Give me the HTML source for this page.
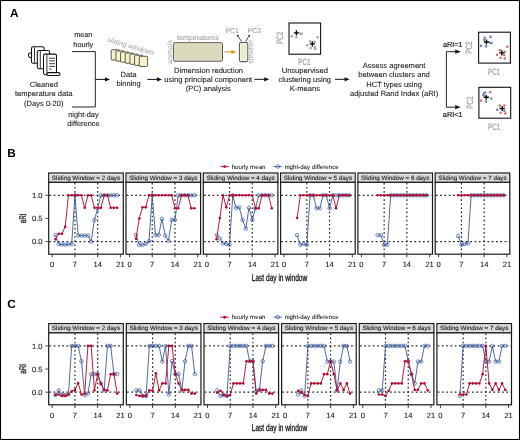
<!DOCTYPE html>
<html><head><meta charset="utf-8"><style>
html,body{margin:0;padding:0;background:#fff;}
#wrap{position:relative;width:520px;height:440px;overflow:hidden;background:#fff;}
svg{position:absolute;left:0;top:0;will-change:transform;}
text{font-family:"Liberation Sans", sans-serif;text-rendering:geometricPrecision;}
</style></head><body><div id="wrap">
<svg width="520" height="440" viewBox="0 0 520 440" font-family='"Liberation Sans", sans-serif'>
<rect x="0.5" y="0.5" width="519" height="439" fill="#fff" stroke="#000" stroke-width="1.1"/>
<text x="10.00" y="17.00" font-size="11.8" text-anchor="start" fill="#000" font-weight="bold">A</text>
<rect x="28.5" y="53" width="4" height="4.4" rx="1.6" fill="#fff" stroke="#111" stroke-width="1.05"/>
<rect x="31.5" y="46.8" width="12.6" height="16.5" rx="1.6" fill="#fff" stroke="#111" stroke-width="1.05"/>
<line x1="34.5" y1="47.3" x2="34.5" y2="62.8" stroke="#1e1e1e" stroke-width="0.9"/>
<rect x="37.3" y="50.4" width="12.3" height="18.3" rx="1.6" fill="#fff" stroke="#111" stroke-width="1.05"/>
<line x1="40.3" y1="50.9" x2="40.3" y2="68.2" stroke="#1e1e1e" stroke-width="0.9"/>
<rect x="43.5" y="54.1" width="13" height="20.6" rx="1.6" fill="#fff" stroke="#111" stroke-width="1.05"/>
<line x1="46.9" y1="54.6" x2="46.9" y2="74.4" stroke="#1e1e1e" stroke-width="0.9"/>
<rect x="46.9" y="72.6" width="13.1" height="2.9" rx="1.4" fill="#fff" stroke="#111" stroke-width="1.05"/>
<line x1="49.2" y1="58.3" x2="55" y2="58.3" stroke="#1e1e1e" stroke-width="0.85"/>
<line x1="49.2" y1="60.9" x2="55" y2="60.9" stroke="#1e1e1e" stroke-width="0.85"/>
<line x1="49.2" y1="63.7" x2="55" y2="63.7" stroke="#1e1e1e" stroke-width="0.85"/>
<line x1="49.2" y1="66.4" x2="55" y2="66.4" stroke="#1e1e1e" stroke-width="0.85"/>
<line x1="49.2" y1="69.1" x2="51.5" y2="69.1" stroke="#1e1e1e" stroke-width="0.85"/>
<text x="43.80" y="86.90" font-size="7.57" text-anchor="middle" fill="#1a1a1a" stroke="#1a1a1a" stroke-width="0.09">Cleaned</text>
<text x="43.80" y="96.30" font-size="7.57" text-anchor="middle" fill="#1a1a1a" stroke="#1a1a1a" stroke-width="0.09">temperature data</text>
<text x="43.80" y="105.60" font-size="7.57" text-anchor="middle" fill="#1a1a1a" stroke="#1a1a1a" stroke-width="0.09">(Days 0-20)</text>
<text x="83.30" y="37.10" font-size="7.3" text-anchor="middle" fill="#1a1a1a" stroke="#1a1a1a" stroke-width="0.09">mean</text>
<text x="83.30" y="46.80" font-size="7.3" text-anchor="middle" fill="#1a1a1a" stroke="#1a1a1a" stroke-width="0.09">hourly</text>
<text x="83.40" y="116.70" font-size="7.4" text-anchor="middle" fill="#1a1a1a" stroke="#1a1a1a" stroke-width="0.09">night-day</text>
<text x="83.40" y="126.20" font-size="7.4" text-anchor="middle" fill="#1a1a1a" stroke="#1a1a1a" stroke-width="0.09">difference</text>
<path d="M72,51.6 H95.3 V107 H72" fill="none" stroke="#222" stroke-width="1"/>
<line x1="95.3" y1="79.4" x2="105.5" y2="79.4" stroke="#111" stroke-width="1"/>
<path d="M110,79.4 L105,77.30000000000001 L105,81.5 Z" fill="#111"/>
<rect x="111.20" y="49.80" width="8.3" height="10.2" rx="0.8" fill="#f6f2cc" stroke="#4a4a40" stroke-width="0.9"/>
<rect x="115.88" y="50.88" width="8.3" height="10.2" rx="0.8" fill="#f6f2cc" stroke="#4a4a40" stroke-width="0.9"/>
<rect x="120.56" y="51.96" width="8.3" height="10.2" rx="0.8" fill="#f6f2cc" stroke="#4a4a40" stroke-width="0.9"/>
<rect x="125.24" y="53.04" width="8.3" height="10.2" rx="0.8" fill="#f6f2cc" stroke="#4a4a40" stroke-width="0.9"/>
<rect x="129.92" y="54.12" width="8.3" height="10.2" rx="0.8" fill="#f6f2cc" stroke="#4a4a40" stroke-width="0.9"/>
<rect x="134.60" y="55.20" width="8.3" height="10.2" rx="0.8" fill="#f6f2cc" stroke="#4a4a40" stroke-width="0.9"/>
<rect x="139.28" y="56.28" width="8.3" height="10.2" rx="0.8" fill="#f6f2cc" stroke="#4a4a40" stroke-width="0.9"/>
<text x="0" y="0" font-size="7" font-style="italic" fill="#a0a0a0" transform="translate(107.0,41.6) rotate(16.3)">sliding windows</text>
<text x="128.60" y="77.30" font-size="7.57" text-anchor="middle" fill="#1a1a1a" stroke="#1a1a1a" stroke-width="0.09">Data</text>
<text x="128.60" y="86.20" font-size="7.57" text-anchor="middle" fill="#1a1a1a" stroke="#1a1a1a" stroke-width="0.09">binning</text>
<line x1="147.3" y1="79.4" x2="157.5" y2="79.4" stroke="#111" stroke-width="1"/>
<path d="M162,79.4 L157,77.30000000000001 L157,81.5 Z" fill="#111"/>
<rect x="173.4" y="42.7" width="49.1" height="18.5" rx="1.6" fill="#dbd9bc" stroke="#55554c" stroke-width="1"/>
<rect x="174.7" y="44" width="46.5" height="15.9" fill="none" stroke="#e6e4cb" stroke-width="0.7"/>
<text x="197.90" y="39.50" font-size="7.1" text-anchor="middle" fill="#a0a0a0" stroke="#a0a0a0" stroke-width="0.09">temperatures</text>
<text x="0" y="0" font-size="6.9" text-anchor="middle" fill="#a0a0a0" transform="translate(171.6,52) rotate(-90)">animals</text>
<line x1="224.2" y1="51.9" x2="232" y2="51.9" stroke="#e8962e" stroke-width="1.1"/>
<path d="M236.6,51.9 L231.4,49.8 L231.4,54 Z" fill="#e8962e"/>
<rect x="239.4" y="42.4" width="8.4" height="19.2" rx="1.6" fill="#ebe9cb" stroke="#5a5a52" stroke-width="1.05"/>
<rect x="240.7" y="43.7" width="5.8" height="16.6" fill="none" stroke="#f8f7e0" stroke-width="0.7"/>
<line x1="243.6" y1="44" x2="243.6" y2="60" stroke="#f3f2d8" stroke-width="0.6"/>
<text x="0" y="0" font-size="6.9" text-anchor="middle" fill="#a0a0a0" transform="translate(249.1,51.8) rotate(90)">animals</text>
<text x="232.20" y="32.60" font-size="7.0" text-anchor="middle" fill="#a0a0a0" stroke="#a0a0a0" stroke-width="0.09">PC1</text>
<text x="254.40" y="32.60" font-size="7.0" text-anchor="middle" fill="#a0a0a0" stroke="#a0a0a0" stroke-width="0.09">PC2</text>
<line x1="241.6" y1="41.5" x2="238.17" y2="36.32" stroke="#222" stroke-width="0.8"/>
<path d="M236.9,34.4 L239.13,35.68 L237.21,36.95 Z" fill="#111"/>
<line x1="245.6" y1="41.5" x2="248.87" y2="36.34" stroke="#222" stroke-width="0.8"/>
<path d="M250.1,34.4 L249.84,36.96 L247.90,35.73 Z" fill="#111"/>
<text x="208.60" y="72.60" font-size="7.57" text-anchor="middle" fill="#1a1a1a" stroke="#1a1a1a" stroke-width="0.09">Dimension reduction</text>
<text x="208.30" y="81.60" font-size="7.57" text-anchor="middle" fill="#1a1a1a" stroke="#1a1a1a" stroke-width="0.09">using principal component</text>
<text x="208.30" y="90.60" font-size="7.57" text-anchor="middle" fill="#1a1a1a" stroke="#1a1a1a" stroke-width="0.09">(PC) analysis</text>
<line x1="254.3" y1="79.3" x2="264.7" y2="79.3" stroke="#111" stroke-width="1"/>
<path d="M269.2,79.3 L264.2,77.2 L264.2,81.39999999999999 Z" fill="#111"/>
<rect x="289" y="23" width="31.6" height="31.2" fill="#fff" stroke="#111" stroke-width="1.1"/>
<circle cx="291.9" cy="36.4" r="1.3" fill="#a9a9a9"/>
<circle cx="296.4" cy="37.3" r="1.3" fill="#a9a9a9"/>
<circle cx="301.8" cy="33.9" r="1.3" fill="#a9a9a9"/>
<circle cx="300.3" cy="33.6" r="1.3" fill="#a9a9a9"/>
<circle cx="317.7" cy="37.3" r="1.3" fill="#a9a9a9"/>
<circle cx="307.2" cy="45.3" r="1.3" fill="#a9a9a9"/>
<circle cx="310.1" cy="41.3" r="1.3" fill="#a9a9a9"/>
<circle cx="314.6" cy="41.9" r="1.3" fill="#a9a9a9"/>
<circle cx="310.6" cy="48.1" r="1.3" fill="#a9a9a9"/>
<circle cx="315.2" cy="48.9" r="1.3" fill="#a9a9a9"/>
<circle cx="314.9" cy="47.1" r="1.3" fill="#a9a9a9"/>
<path d="M293.79999999999995,32.8 H299.0 M296.4,30.199999999999996 V35.4" stroke="#000" stroke-width="1.3"/>
<path d="M309.7,43.9 H314.90000000000003 M312.3,41.3 V46.5" stroke="#000" stroke-width="1.3"/>
<text x="0" y="0" font-size="9.2" text-anchor="middle" fill="#a0a0a0" transform="translate(282.6,37.9) rotate(-90) scale(0.68,1)" stroke="#a0a0a0" stroke-width="0.22">PC2</text>
<text x="0" y="0" font-size="9.2" text-anchor="middle" fill="#a0a0a0" transform="translate(304.3,65.3) scale(0.68,1)" stroke="#a0a0a0" stroke-width="0.22">PC1</text>
<text x="304.80" y="72.60" font-size="7.57" text-anchor="middle" fill="#1a1a1a" stroke="#1a1a1a" stroke-width="0.09">Unsupervised</text>
<text x="304.80" y="81.70" font-size="7.57" text-anchor="middle" fill="#1a1a1a" stroke="#1a1a1a" stroke-width="0.09">clustering using</text>
<text x="304.80" y="90.80" font-size="7.57" text-anchor="middle" fill="#1a1a1a" stroke="#1a1a1a" stroke-width="0.09">K-means</text>
<line x1="335" y1="79.3" x2="345.1" y2="79.3" stroke="#111" stroke-width="1"/>
<path d="M349.6,79.3 L344.6,77.2 L344.6,81.39999999999999 Z" fill="#111"/>
<text x="394.10" y="68.10" font-size="7.57" text-anchor="middle" fill="#1a1a1a" stroke="#1a1a1a" stroke-width="0.09">Assess agreement</text>
<text x="394.10" y="77.30" font-size="7.57" text-anchor="middle" fill="#1a1a1a" stroke="#1a1a1a" stroke-width="0.09">between clusters and</text>
<text x="394.10" y="86.50" font-size="7.57" text-anchor="middle" fill="#1a1a1a" stroke="#1a1a1a" stroke-width="0.09">HCT types using</text>
<text x="394.10" y="95.70" font-size="7.57" text-anchor="middle" fill="#1a1a1a" stroke="#1a1a1a" stroke-width="0.09">adjusted Rand Index (aRI)</text>
<path d="M460.2,51.7 H446.4 V107.2 H455" fill="none" stroke="#222" stroke-width="1"/>
<path d="M460.6,51.7 L455.2,49.6 L455.2,53.8 Z" fill="#111"/>
<path d="M460.6,107.2 L455.2,105.1 L455.2,109.3 Z" fill="#111"/>
<text x="452.80" y="46.60" font-size="7.3" text-anchor="middle" fill="#1a1a1a" stroke="#1a1a1a" stroke-width="0.18">aRI=1</text>
<text x="452.70" y="117.30" font-size="7.3" text-anchor="middle" fill="#1a1a1a" stroke="#1a1a1a" stroke-width="0.18">aRI&lt;1</text>
<rect x="478.6" y="32.2" width="31.8" height="30.9" fill="#fff" stroke="#111" stroke-width="1.1"/>
<circle cx="484.2" cy="39.8" r="1.3" fill="#7584c0"/>
<circle cx="484.8" cy="37.7" r="1.3" fill="#7584c0"/>
<circle cx="490.5" cy="36.9" r="1.3" fill="#7584c0"/>
<circle cx="491.6" cy="43" r="1.3" fill="#7584c0"/>
<circle cx="490.2" cy="42.8" r="1.3" fill="#7584c0"/>
<circle cx="481.1" cy="45.7" r="1.3" fill="#7584c0"/>
<circle cx="486.1" cy="46.4" r="1.3" fill="#7584c0"/>
<circle cx="507.3" cy="46.8" r="1.3" fill="#d27262"/>
<circle cx="499.8" cy="50.2" r="1.3" fill="#d27262"/>
<circle cx="497" cy="54.8" r="1.3" fill="#d27262"/>
<circle cx="500.5" cy="57.7" r="1.3" fill="#d27262"/>
<circle cx="504.7" cy="51.7" r="1.3" fill="#d27262"/>
<circle cx="504.1" cy="55.1" r="1.3" fill="#d27262"/>
<circle cx="504.7" cy="58.5" r="1.3" fill="#d27262"/>
<path d="M483.9,42 H489.1 M486.5,39.4 V44.6" stroke="#000" stroke-width="1.3"/>
<path d="M499.2,52.8 H504.40000000000003 M501.8,50.199999999999996 V55.4" stroke="#000" stroke-width="1.3"/>
<rect x="478.9" y="87.3" width="31.8" height="30.9" fill="#fff" stroke="#111" stroke-width="1.1"/>
<circle cx="484" cy="93.5" r="1.3" fill="#7584c0"/>
<circle cx="485" cy="92.5" r="1.3" fill="#7584c0"/>
<circle cx="483.5" cy="95.25" r="1.3" fill="#7584c0"/>
<circle cx="491.25" cy="98.5" r="1.3" fill="#7584c0"/>
<circle cx="486" cy="101.5" r="1.3" fill="#7584c0"/>
<circle cx="497.25" cy="109.75" r="1.3" fill="#7584c0"/>
<circle cx="504.4" cy="111" r="1.3" fill="#7584c0"/>
<circle cx="490.25" cy="92.25" r="1.3" fill="#d27262"/>
<circle cx="481" cy="100.6" r="1.3" fill="#d27262"/>
<circle cx="499.75" cy="105.6" r="1.3" fill="#d27262"/>
<circle cx="504.4" cy="105.6" r="1.3" fill="#d27262"/>
<circle cx="500.6" cy="112.75" r="1.3" fill="#d27262"/>
<circle cx="505.25" cy="113.5" r="1.3" fill="#d27262"/>
<path d="M483.65,97.25 H488.85 M486.25,94.65 V99.85" stroke="#000" stroke-width="1.3"/>
<path d="M499.65,108.5 H504.85 M502.25,105.9 V111.1" stroke="#000" stroke-width="1.3"/>
<text x="0" y="0" font-size="9.2" text-anchor="middle" fill="#a0a0a0" transform="translate(472.4,47.7) rotate(-90) scale(0.68,1)" stroke="#a0a0a0" stroke-width="0.22">PC2</text>
<text x="0" y="0" font-size="9.2" text-anchor="middle" fill="#a0a0a0" transform="translate(494.1,74.6) scale(0.68,1)" stroke="#a0a0a0" stroke-width="0.22">PC1</text>
<text x="0" y="0" font-size="9.2" text-anchor="middle" fill="#a0a0a0" transform="translate(472.6,102.6) rotate(-90) scale(0.68,1)" stroke="#a0a0a0" stroke-width="0.22">PC2</text>
<text x="0" y="0" font-size="9.2" text-anchor="middle" fill="#a0a0a0" transform="translate(494.1,129.5) scale(0.68,1)" stroke="#a0a0a0" stroke-width="0.22">PC1</text>
<text x="7.20" y="157.00" font-size="11.8" text-anchor="start" fill="#000" font-weight="bold">B</text>
<line x1="220.2" y1="166.6" x2="228.9" y2="166.6" stroke="#b8082e" stroke-width="0.9"/>
<circle cx="224.6" cy="166.6" r="1.45" fill="#b8082e"/>
<text x="231.70" y="168.50" font-size="6.15" text-anchor="start" fill="#111" stroke="#111" stroke-width="0.04">hourly mean</text>
<line x1="273.5" y1="166.6" x2="281.9" y2="166.6" stroke="#3a5a9c" stroke-width="0.9"/>
<circle cx="277.8" cy="166.6" r="1.8" fill="none" stroke="#3a5a9c" stroke-width="0.7"/>
<text x="284.80" y="168.50" font-size="6.15" text-anchor="start" fill="#111" stroke="#111" stroke-width="0.04">night-day difference</text>
<rect x="48.70" y="173.00" width="74.60" height="9.30" fill="#d7d7d7" stroke="#1a1a1a" stroke-width="1.2"/>
<rect x="49.90" y="174.20" width="72.20" height="6.90" fill="none" stroke="#e9e9e9" stroke-width="0.6"/>
<text x="86.00" y="179.60" font-size="6.25" text-anchor="middle" fill="#1a1a1a" stroke="#1a1a1a" stroke-width="0.1">Sliding Window = 2 days</text>
<rect x="48.70" y="182.30" width="74.60" height="71.90" fill="#fff" stroke="#1a1a1a" stroke-width="1.2"/>
<line x1="49.30" y1="241.60" x2="122.70" y2="241.60" stroke="#2a2a2a" stroke-width="1.25" stroke-dasharray="1.8,2.5"/>
<line x1="49.30" y1="195.30" x2="122.70" y2="195.30" stroke="#2a2a2a" stroke-width="1.25" stroke-dasharray="1.8,2.5"/>
<line x1="74.94" y1="182.90" x2="74.94" y2="253.60" stroke="#222" stroke-width="1.2" stroke-dasharray="1.6,2.5"/>
<line x1="97.67" y1="182.90" x2="97.67" y2="253.60" stroke="#222" stroke-width="1.2" stroke-dasharray="1.6,2.5"/>
<line x1="52.20" y1="254.20" x2="52.20" y2="257.40" stroke="#222" stroke-width="0.85"/>
<text x="52.20" y="267.20" font-size="7.6" text-anchor="middle" fill="#1a1a1a" stroke="#1a1a1a" stroke-width="0.1">0</text>
<line x1="74.94" y1="254.20" x2="74.94" y2="257.40" stroke="#222" stroke-width="0.85"/>
<text x="74.94" y="267.20" font-size="7.6" text-anchor="middle" fill="#1a1a1a" stroke="#1a1a1a" stroke-width="0.1">7</text>
<line x1="97.67" y1="254.20" x2="97.67" y2="257.40" stroke="#222" stroke-width="0.85"/>
<text x="97.67" y="267.20" font-size="7.6" text-anchor="middle" fill="#1a1a1a" stroke="#1a1a1a" stroke-width="0.1">14</text>
<line x1="120.41" y1="254.20" x2="120.41" y2="257.40" stroke="#222" stroke-width="0.85"/>
<text x="120.41" y="267.20" font-size="7.6" text-anchor="middle" fill="#1a1a1a" stroke="#1a1a1a" stroke-width="0.1">21</text>
<polyline points="55.45,235.12 58.70,244.15 61.94,244.61 65.19,244.61 68.44,244.38 71.69,243.91 74.94,195.30 78.18,235.58 81.43,235.58 84.68,235.58 87.93,235.58 91.18,241.60 94.42,219.84 97.67,208.73 100.92,195.30 104.17,195.30 107.42,195.30 110.66,195.30 113.91,195.30 117.16,195.30" fill="none" stroke="#3a5a9c" stroke-width="0.9" stroke-linejoin="round"/>
<circle cx="55.45" cy="235.12" r="1.75" fill="none" stroke="#3a5a9c" stroke-width="0.7"/>
<circle cx="58.70" cy="244.15" r="1.75" fill="none" stroke="#3a5a9c" stroke-width="0.7"/>
<circle cx="61.94" cy="244.61" r="1.75" fill="none" stroke="#3a5a9c" stroke-width="0.7"/>
<circle cx="65.19" cy="244.61" r="1.75" fill="none" stroke="#3a5a9c" stroke-width="0.7"/>
<circle cx="68.44" cy="244.38" r="1.75" fill="none" stroke="#3a5a9c" stroke-width="0.7"/>
<circle cx="71.69" cy="243.91" r="1.75" fill="none" stroke="#3a5a9c" stroke-width="0.7"/>
<circle cx="74.94" cy="195.30" r="1.75" fill="none" stroke="#3a5a9c" stroke-width="0.7"/>
<circle cx="78.18" cy="235.58" r="1.75" fill="none" stroke="#3a5a9c" stroke-width="0.7"/>
<circle cx="81.43" cy="235.58" r="1.75" fill="none" stroke="#3a5a9c" stroke-width="0.7"/>
<circle cx="84.68" cy="235.58" r="1.75" fill="none" stroke="#3a5a9c" stroke-width="0.7"/>
<circle cx="87.93" cy="235.58" r="1.75" fill="none" stroke="#3a5a9c" stroke-width="0.7"/>
<circle cx="91.18" cy="241.60" r="1.75" fill="none" stroke="#3a5a9c" stroke-width="0.7"/>
<circle cx="94.42" cy="219.84" r="1.75" fill="none" stroke="#3a5a9c" stroke-width="0.7"/>
<circle cx="97.67" cy="208.73" r="1.75" fill="none" stroke="#3a5a9c" stroke-width="0.7"/>
<circle cx="100.92" cy="195.30" r="1.75" fill="none" stroke="#3a5a9c" stroke-width="0.7"/>
<circle cx="104.17" cy="195.30" r="1.75" fill="none" stroke="#3a5a9c" stroke-width="0.7"/>
<circle cx="107.42" cy="195.30" r="1.75" fill="none" stroke="#3a5a9c" stroke-width="0.7"/>
<circle cx="110.66" cy="195.30" r="1.75" fill="none" stroke="#3a5a9c" stroke-width="0.7"/>
<circle cx="113.91" cy="195.30" r="1.75" fill="none" stroke="#3a5a9c" stroke-width="0.7"/>
<circle cx="117.16" cy="195.30" r="1.75" fill="none" stroke="#3a5a9c" stroke-width="0.7"/>
<polyline points="55.45,239.28 58.70,233.73 61.94,233.73 65.19,226.78 68.44,195.30 71.69,195.30 74.94,195.30 78.18,195.30 81.43,195.30 84.68,207.80 87.93,195.30 91.18,195.30 94.42,207.80 97.67,207.80 100.92,207.80 104.17,195.30 107.42,195.30 110.66,207.80 113.91,207.80 117.16,207.80" fill="none" stroke="#b8082e" stroke-width="0.92" stroke-linejoin="round"/>
<circle cx="55.45" cy="239.28" r="1.3" fill="#b8082e"/>
<circle cx="58.70" cy="233.73" r="1.3" fill="#b8082e"/>
<circle cx="61.94" cy="233.73" r="1.3" fill="#b8082e"/>
<circle cx="65.19" cy="226.78" r="1.3" fill="#b8082e"/>
<circle cx="68.44" cy="195.30" r="1.3" fill="#b8082e"/>
<circle cx="71.69" cy="195.30" r="1.3" fill="#b8082e"/>
<circle cx="74.94" cy="195.30" r="1.3" fill="#b8082e"/>
<circle cx="78.18" cy="195.30" r="1.3" fill="#b8082e"/>
<circle cx="81.43" cy="195.30" r="1.3" fill="#b8082e"/>
<circle cx="84.68" cy="207.80" r="1.3" fill="#b8082e"/>
<circle cx="87.93" cy="195.30" r="1.3" fill="#b8082e"/>
<circle cx="91.18" cy="195.30" r="1.3" fill="#b8082e"/>
<circle cx="94.42" cy="207.80" r="1.3" fill="#b8082e"/>
<circle cx="97.67" cy="207.80" r="1.3" fill="#b8082e"/>
<circle cx="100.92" cy="207.80" r="1.3" fill="#b8082e"/>
<circle cx="104.17" cy="195.30" r="1.3" fill="#b8082e"/>
<circle cx="107.42" cy="195.30" r="1.3" fill="#b8082e"/>
<circle cx="110.66" cy="207.80" r="1.3" fill="#b8082e"/>
<circle cx="113.91" cy="207.80" r="1.3" fill="#b8082e"/>
<circle cx="117.16" cy="207.80" r="1.3" fill="#b8082e"/>
<rect x="126.00" y="173.00" width="74.60" height="9.30" fill="#d7d7d7" stroke="#1a1a1a" stroke-width="1.2"/>
<rect x="127.20" y="174.20" width="72.20" height="6.90" fill="none" stroke="#e9e9e9" stroke-width="0.6"/>
<text x="163.30" y="179.60" font-size="6.25" text-anchor="middle" fill="#1a1a1a" stroke="#1a1a1a" stroke-width="0.1">Sliding Window = 3 days</text>
<rect x="126.00" y="182.30" width="74.60" height="71.90" fill="#fff" stroke="#1a1a1a" stroke-width="1.2"/>
<line x1="126.60" y1="241.60" x2="200.00" y2="241.60" stroke="#2a2a2a" stroke-width="1.25" stroke-dasharray="1.8,2.5"/>
<line x1="126.60" y1="195.30" x2="200.00" y2="195.30" stroke="#2a2a2a" stroke-width="1.25" stroke-dasharray="1.8,2.5"/>
<line x1="152.24" y1="182.90" x2="152.24" y2="253.60" stroke="#222" stroke-width="1.2" stroke-dasharray="1.6,2.5"/>
<line x1="174.97" y1="182.90" x2="174.97" y2="253.60" stroke="#222" stroke-width="1.2" stroke-dasharray="1.6,2.5"/>
<line x1="129.50" y1="254.20" x2="129.50" y2="257.40" stroke="#222" stroke-width="0.85"/>
<text x="129.50" y="267.20" font-size="7.6" text-anchor="middle" fill="#1a1a1a" stroke="#1a1a1a" stroke-width="0.1">0</text>
<line x1="152.24" y1="254.20" x2="152.24" y2="257.40" stroke="#222" stroke-width="0.85"/>
<text x="152.24" y="267.20" font-size="7.6" text-anchor="middle" fill="#1a1a1a" stroke="#1a1a1a" stroke-width="0.1">7</text>
<line x1="174.97" y1="254.20" x2="174.97" y2="257.40" stroke="#222" stroke-width="0.85"/>
<text x="174.97" y="267.20" font-size="7.6" text-anchor="middle" fill="#1a1a1a" stroke="#1a1a1a" stroke-width="0.1">14</text>
<line x1="197.71" y1="254.20" x2="197.71" y2="257.40" stroke="#222" stroke-width="0.85"/>
<text x="197.71" y="267.20" font-size="7.6" text-anchor="middle" fill="#1a1a1a" stroke="#1a1a1a" stroke-width="0.1">21</text>
<polyline points="136.00,235.12 139.24,244.84 142.49,244.84 145.74,243.91 148.99,241.14 152.24,195.30 155.48,235.12 158.73,235.12 161.98,218.91 165.23,235.58 168.48,240.67 171.72,219.84 174.97,219.84 178.22,195.30 181.47,195.30 184.72,195.30 187.96,195.30 191.21,195.30 194.46,195.30" fill="none" stroke="#3a5a9c" stroke-width="0.9" stroke-linejoin="round"/>
<circle cx="136.00" cy="235.12" r="1.75" fill="none" stroke="#3a5a9c" stroke-width="0.7"/>
<circle cx="139.24" cy="244.84" r="1.75" fill="none" stroke="#3a5a9c" stroke-width="0.7"/>
<circle cx="142.49" cy="244.84" r="1.75" fill="none" stroke="#3a5a9c" stroke-width="0.7"/>
<circle cx="145.74" cy="243.91" r="1.75" fill="none" stroke="#3a5a9c" stroke-width="0.7"/>
<circle cx="148.99" cy="241.14" r="1.75" fill="none" stroke="#3a5a9c" stroke-width="0.7"/>
<circle cx="152.24" cy="195.30" r="1.75" fill="none" stroke="#3a5a9c" stroke-width="0.7"/>
<circle cx="155.48" cy="235.12" r="1.75" fill="none" stroke="#3a5a9c" stroke-width="0.7"/>
<circle cx="158.73" cy="235.12" r="1.75" fill="none" stroke="#3a5a9c" stroke-width="0.7"/>
<circle cx="161.98" cy="218.91" r="1.75" fill="none" stroke="#3a5a9c" stroke-width="0.7"/>
<circle cx="165.23" cy="235.58" r="1.75" fill="none" stroke="#3a5a9c" stroke-width="0.7"/>
<circle cx="168.48" cy="240.67" r="1.75" fill="none" stroke="#3a5a9c" stroke-width="0.7"/>
<circle cx="171.72" cy="219.84" r="1.75" fill="none" stroke="#3a5a9c" stroke-width="0.7"/>
<circle cx="174.97" cy="219.84" r="1.75" fill="none" stroke="#3a5a9c" stroke-width="0.7"/>
<circle cx="178.22" cy="195.30" r="1.75" fill="none" stroke="#3a5a9c" stroke-width="0.7"/>
<circle cx="181.47" cy="195.30" r="1.75" fill="none" stroke="#3a5a9c" stroke-width="0.7"/>
<circle cx="184.72" cy="195.30" r="1.75" fill="none" stroke="#3a5a9c" stroke-width="0.7"/>
<circle cx="187.96" cy="195.30" r="1.75" fill="none" stroke="#3a5a9c" stroke-width="0.7"/>
<circle cx="191.21" cy="195.30" r="1.75" fill="none" stroke="#3a5a9c" stroke-width="0.7"/>
<circle cx="194.46" cy="195.30" r="1.75" fill="none" stroke="#3a5a9c" stroke-width="0.7"/>
<polyline points="136.00,238.82 139.24,218.45 142.49,207.34 145.74,207.34 148.99,195.30 152.24,195.30 155.48,195.30 158.73,195.30 161.98,195.30 165.23,195.30 168.48,195.30 171.72,195.30 174.97,208.26 178.22,208.26 181.47,195.30 184.72,195.30 187.96,195.30 191.21,208.26 194.46,208.26" fill="none" stroke="#b8082e" stroke-width="0.92" stroke-linejoin="round"/>
<circle cx="136.00" cy="238.82" r="1.3" fill="#b8082e"/>
<circle cx="139.24" cy="218.45" r="1.3" fill="#b8082e"/>
<circle cx="142.49" cy="207.34" r="1.3" fill="#b8082e"/>
<circle cx="145.74" cy="207.34" r="1.3" fill="#b8082e"/>
<circle cx="148.99" cy="195.30" r="1.3" fill="#b8082e"/>
<circle cx="152.24" cy="195.30" r="1.3" fill="#b8082e"/>
<circle cx="155.48" cy="195.30" r="1.3" fill="#b8082e"/>
<circle cx="158.73" cy="195.30" r="1.3" fill="#b8082e"/>
<circle cx="161.98" cy="195.30" r="1.3" fill="#b8082e"/>
<circle cx="165.23" cy="195.30" r="1.3" fill="#b8082e"/>
<circle cx="168.48" cy="195.30" r="1.3" fill="#b8082e"/>
<circle cx="171.72" cy="195.30" r="1.3" fill="#b8082e"/>
<circle cx="174.97" cy="208.26" r="1.3" fill="#b8082e"/>
<circle cx="178.22" cy="208.26" r="1.3" fill="#b8082e"/>
<circle cx="181.47" cy="195.30" r="1.3" fill="#b8082e"/>
<circle cx="184.72" cy="195.30" r="1.3" fill="#b8082e"/>
<circle cx="187.96" cy="195.30" r="1.3" fill="#b8082e"/>
<circle cx="191.21" cy="208.26" r="1.3" fill="#b8082e"/>
<circle cx="194.46" cy="208.26" r="1.3" fill="#b8082e"/>
<rect x="203.30" y="173.00" width="74.60" height="9.30" fill="#d7d7d7" stroke="#1a1a1a" stroke-width="1.2"/>
<rect x="204.50" y="174.20" width="72.20" height="6.90" fill="none" stroke="#e9e9e9" stroke-width="0.6"/>
<text x="240.60" y="179.60" font-size="6.25" text-anchor="middle" fill="#1a1a1a" stroke="#1a1a1a" stroke-width="0.1">Sliding Window = 4 days</text>
<rect x="203.30" y="182.30" width="74.60" height="71.90" fill="#fff" stroke="#1a1a1a" stroke-width="1.2"/>
<line x1="203.90" y1="241.60" x2="277.30" y2="241.60" stroke="#2a2a2a" stroke-width="1.25" stroke-dasharray="1.8,2.5"/>
<line x1="203.90" y1="195.30" x2="277.30" y2="195.30" stroke="#2a2a2a" stroke-width="1.25" stroke-dasharray="1.8,2.5"/>
<line x1="229.54" y1="182.90" x2="229.54" y2="253.60" stroke="#222" stroke-width="1.2" stroke-dasharray="1.6,2.5"/>
<line x1="252.27" y1="182.90" x2="252.27" y2="253.60" stroke="#222" stroke-width="1.2" stroke-dasharray="1.6,2.5"/>
<line x1="206.80" y1="254.20" x2="206.80" y2="257.40" stroke="#222" stroke-width="0.85"/>
<text x="206.80" y="267.20" font-size="7.6" text-anchor="middle" fill="#1a1a1a" stroke="#1a1a1a" stroke-width="0.1">0</text>
<line x1="229.54" y1="254.20" x2="229.54" y2="257.40" stroke="#222" stroke-width="0.85"/>
<text x="229.54" y="267.20" font-size="7.6" text-anchor="middle" fill="#1a1a1a" stroke="#1a1a1a" stroke-width="0.1">7</text>
<line x1="252.27" y1="254.20" x2="252.27" y2="257.40" stroke="#222" stroke-width="0.85"/>
<text x="252.27" y="267.20" font-size="7.6" text-anchor="middle" fill="#1a1a1a" stroke="#1a1a1a" stroke-width="0.1">14</text>
<line x1="275.01" y1="254.20" x2="275.01" y2="257.40" stroke="#222" stroke-width="0.85"/>
<text x="275.01" y="267.20" font-size="7.6" text-anchor="middle" fill="#1a1a1a" stroke="#1a1a1a" stroke-width="0.1">21</text>
<polyline points="216.54,235.12 219.79,238.36 223.04,243.45 226.29,243.91 229.54,244.84 232.78,195.30 236.03,207.80 239.28,207.34 242.53,219.84 245.78,228.64 249.02,207.80 252.27,219.84 255.52,208.26 258.77,195.30 262.02,195.30 265.26,195.30 268.51,195.30 271.76,195.30" fill="none" stroke="#3a5a9c" stroke-width="0.9" stroke-linejoin="round"/>
<circle cx="216.54" cy="235.12" r="1.75" fill="none" stroke="#3a5a9c" stroke-width="0.7"/>
<circle cx="219.79" cy="238.36" r="1.75" fill="none" stroke="#3a5a9c" stroke-width="0.7"/>
<circle cx="223.04" cy="243.45" r="1.75" fill="none" stroke="#3a5a9c" stroke-width="0.7"/>
<circle cx="226.29" cy="243.91" r="1.75" fill="none" stroke="#3a5a9c" stroke-width="0.7"/>
<circle cx="229.54" cy="244.84" r="1.75" fill="none" stroke="#3a5a9c" stroke-width="0.7"/>
<circle cx="232.78" cy="195.30" r="1.75" fill="none" stroke="#3a5a9c" stroke-width="0.7"/>
<circle cx="236.03" cy="207.80" r="1.75" fill="none" stroke="#3a5a9c" stroke-width="0.7"/>
<circle cx="239.28" cy="207.34" r="1.75" fill="none" stroke="#3a5a9c" stroke-width="0.7"/>
<circle cx="242.53" cy="219.84" r="1.75" fill="none" stroke="#3a5a9c" stroke-width="0.7"/>
<circle cx="245.78" cy="228.64" r="1.75" fill="none" stroke="#3a5a9c" stroke-width="0.7"/>
<circle cx="249.02" cy="207.80" r="1.75" fill="none" stroke="#3a5a9c" stroke-width="0.7"/>
<circle cx="252.27" cy="219.84" r="1.75" fill="none" stroke="#3a5a9c" stroke-width="0.7"/>
<circle cx="255.52" cy="208.26" r="1.75" fill="none" stroke="#3a5a9c" stroke-width="0.7"/>
<circle cx="258.77" cy="195.30" r="1.75" fill="none" stroke="#3a5a9c" stroke-width="0.7"/>
<circle cx="262.02" cy="195.30" r="1.75" fill="none" stroke="#3a5a9c" stroke-width="0.7"/>
<circle cx="265.26" cy="195.30" r="1.75" fill="none" stroke="#3a5a9c" stroke-width="0.7"/>
<circle cx="268.51" cy="195.30" r="1.75" fill="none" stroke="#3a5a9c" stroke-width="0.7"/>
<circle cx="271.76" cy="195.30" r="1.75" fill="none" stroke="#3a5a9c" stroke-width="0.7"/>
<polyline points="216.54,239.28 219.79,217.99 223.04,195.30 226.29,207.34 229.54,195.30 232.78,195.30 236.03,195.30 239.28,195.30 242.53,195.30 245.78,195.30 249.02,195.30 252.27,195.30 255.52,208.26 258.77,208.26 262.02,195.30 265.26,195.30 268.51,195.30 271.76,208.26" fill="none" stroke="#b8082e" stroke-width="0.92" stroke-linejoin="round"/>
<circle cx="216.54" cy="239.28" r="1.3" fill="#b8082e"/>
<circle cx="219.79" cy="217.99" r="1.3" fill="#b8082e"/>
<circle cx="223.04" cy="195.30" r="1.3" fill="#b8082e"/>
<circle cx="226.29" cy="207.34" r="1.3" fill="#b8082e"/>
<circle cx="229.54" cy="195.30" r="1.3" fill="#b8082e"/>
<circle cx="232.78" cy="195.30" r="1.3" fill="#b8082e"/>
<circle cx="236.03" cy="195.30" r="1.3" fill="#b8082e"/>
<circle cx="239.28" cy="195.30" r="1.3" fill="#b8082e"/>
<circle cx="242.53" cy="195.30" r="1.3" fill="#b8082e"/>
<circle cx="245.78" cy="195.30" r="1.3" fill="#b8082e"/>
<circle cx="249.02" cy="195.30" r="1.3" fill="#b8082e"/>
<circle cx="252.27" cy="195.30" r="1.3" fill="#b8082e"/>
<circle cx="255.52" cy="208.26" r="1.3" fill="#b8082e"/>
<circle cx="258.77" cy="208.26" r="1.3" fill="#b8082e"/>
<circle cx="262.02" cy="195.30" r="1.3" fill="#b8082e"/>
<circle cx="265.26" cy="195.30" r="1.3" fill="#b8082e"/>
<circle cx="268.51" cy="195.30" r="1.3" fill="#b8082e"/>
<circle cx="271.76" cy="208.26" r="1.3" fill="#b8082e"/>
<rect x="280.60" y="173.00" width="74.60" height="9.30" fill="#d7d7d7" stroke="#1a1a1a" stroke-width="1.2"/>
<rect x="281.80" y="174.20" width="72.20" height="6.90" fill="none" stroke="#e9e9e9" stroke-width="0.6"/>
<text x="317.90" y="179.60" font-size="6.25" text-anchor="middle" fill="#1a1a1a" stroke="#1a1a1a" stroke-width="0.1">Sliding Window = 5 days</text>
<rect x="280.60" y="182.30" width="74.60" height="71.90" fill="#fff" stroke="#1a1a1a" stroke-width="1.2"/>
<line x1="281.20" y1="241.60" x2="354.60" y2="241.60" stroke="#2a2a2a" stroke-width="1.25" stroke-dasharray="1.8,2.5"/>
<line x1="281.20" y1="195.30" x2="354.60" y2="195.30" stroke="#2a2a2a" stroke-width="1.25" stroke-dasharray="1.8,2.5"/>
<line x1="306.84" y1="182.90" x2="306.84" y2="253.60" stroke="#222" stroke-width="1.2" stroke-dasharray="1.6,2.5"/>
<line x1="329.57" y1="182.90" x2="329.57" y2="253.60" stroke="#222" stroke-width="1.2" stroke-dasharray="1.6,2.5"/>
<line x1="284.10" y1="254.20" x2="284.10" y2="257.40" stroke="#222" stroke-width="0.85"/>
<text x="284.10" y="267.20" font-size="7.6" text-anchor="middle" fill="#1a1a1a" stroke="#1a1a1a" stroke-width="0.1">0</text>
<line x1="306.84" y1="254.20" x2="306.84" y2="257.40" stroke="#222" stroke-width="0.85"/>
<text x="306.84" y="267.20" font-size="7.6" text-anchor="middle" fill="#1a1a1a" stroke="#1a1a1a" stroke-width="0.1">7</text>
<line x1="329.57" y1="254.20" x2="329.57" y2="257.40" stroke="#222" stroke-width="0.85"/>
<text x="329.57" y="267.20" font-size="7.6" text-anchor="middle" fill="#1a1a1a" stroke="#1a1a1a" stroke-width="0.1">14</text>
<line x1="352.31" y1="254.20" x2="352.31" y2="257.40" stroke="#222" stroke-width="0.85"/>
<text x="352.31" y="267.20" font-size="7.6" text-anchor="middle" fill="#1a1a1a" stroke="#1a1a1a" stroke-width="0.1">21</text>
<polyline points="297.09,235.12 300.34,244.84 303.59,243.91 306.84,244.84 310.08,195.30 313.33,195.30 316.58,208.26 319.83,208.26 323.08,195.30 326.32,195.30 329.57,208.26 332.82,195.30 336.07,195.30 339.32,195.30 342.56,195.30 345.81,195.30 349.06,195.30" fill="none" stroke="#3a5a9c" stroke-width="0.9" stroke-linejoin="round"/>
<circle cx="297.09" cy="235.12" r="1.75" fill="none" stroke="#3a5a9c" stroke-width="0.7"/>
<circle cx="300.34" cy="244.84" r="1.75" fill="none" stroke="#3a5a9c" stroke-width="0.7"/>
<circle cx="303.59" cy="243.91" r="1.75" fill="none" stroke="#3a5a9c" stroke-width="0.7"/>
<circle cx="306.84" cy="244.84" r="1.75" fill="none" stroke="#3a5a9c" stroke-width="0.7"/>
<circle cx="310.08" cy="195.30" r="1.75" fill="none" stroke="#3a5a9c" stroke-width="0.7"/>
<circle cx="313.33" cy="195.30" r="1.75" fill="none" stroke="#3a5a9c" stroke-width="0.7"/>
<circle cx="316.58" cy="208.26" r="1.75" fill="none" stroke="#3a5a9c" stroke-width="0.7"/>
<circle cx="319.83" cy="208.26" r="1.75" fill="none" stroke="#3a5a9c" stroke-width="0.7"/>
<circle cx="323.08" cy="195.30" r="1.75" fill="none" stroke="#3a5a9c" stroke-width="0.7"/>
<circle cx="326.32" cy="195.30" r="1.75" fill="none" stroke="#3a5a9c" stroke-width="0.7"/>
<circle cx="329.57" cy="208.26" r="1.75" fill="none" stroke="#3a5a9c" stroke-width="0.7"/>
<circle cx="332.82" cy="195.30" r="1.75" fill="none" stroke="#3a5a9c" stroke-width="0.7"/>
<circle cx="336.07" cy="195.30" r="1.75" fill="none" stroke="#3a5a9c" stroke-width="0.7"/>
<circle cx="339.32" cy="195.30" r="1.75" fill="none" stroke="#3a5a9c" stroke-width="0.7"/>
<circle cx="342.56" cy="195.30" r="1.75" fill="none" stroke="#3a5a9c" stroke-width="0.7"/>
<circle cx="345.81" cy="195.30" r="1.75" fill="none" stroke="#3a5a9c" stroke-width="0.7"/>
<circle cx="349.06" cy="195.30" r="1.75" fill="none" stroke="#3a5a9c" stroke-width="0.7"/>
<polyline points="297.09,217.99 300.34,195.30 303.59,195.30 306.84,195.30 310.08,195.30 313.33,195.30 316.58,195.30 319.83,195.30 323.08,195.30 326.32,195.30 329.57,195.30 332.82,195.30 336.07,208.26 339.32,195.30 342.56,195.30 345.81,195.30 349.06,195.30" fill="none" stroke="#b8082e" stroke-width="0.92" stroke-linejoin="round"/>
<circle cx="297.09" cy="217.99" r="1.3" fill="#b8082e"/>
<circle cx="300.34" cy="195.30" r="1.3" fill="#b8082e"/>
<circle cx="303.59" cy="195.30" r="1.3" fill="#b8082e"/>
<circle cx="306.84" cy="195.30" r="1.3" fill="#b8082e"/>
<circle cx="310.08" cy="195.30" r="1.3" fill="#b8082e"/>
<circle cx="313.33" cy="195.30" r="1.3" fill="#b8082e"/>
<circle cx="316.58" cy="195.30" r="1.3" fill="#b8082e"/>
<circle cx="319.83" cy="195.30" r="1.3" fill="#b8082e"/>
<circle cx="323.08" cy="195.30" r="1.3" fill="#b8082e"/>
<circle cx="326.32" cy="195.30" r="1.3" fill="#b8082e"/>
<circle cx="329.57" cy="195.30" r="1.3" fill="#b8082e"/>
<circle cx="332.82" cy="195.30" r="1.3" fill="#b8082e"/>
<circle cx="336.07" cy="208.26" r="1.3" fill="#b8082e"/>
<circle cx="339.32" cy="195.30" r="1.3" fill="#b8082e"/>
<circle cx="342.56" cy="195.30" r="1.3" fill="#b8082e"/>
<circle cx="345.81" cy="195.30" r="1.3" fill="#b8082e"/>
<circle cx="349.06" cy="195.30" r="1.3" fill="#b8082e"/>
<rect x="357.90" y="173.00" width="74.60" height="9.30" fill="#d7d7d7" stroke="#1a1a1a" stroke-width="1.2"/>
<rect x="359.10" y="174.20" width="72.20" height="6.90" fill="none" stroke="#e9e9e9" stroke-width="0.6"/>
<text x="395.20" y="179.60" font-size="6.25" text-anchor="middle" fill="#1a1a1a" stroke="#1a1a1a" stroke-width="0.1">Sliding Window = 6 days</text>
<rect x="357.90" y="182.30" width="74.60" height="71.90" fill="#fff" stroke="#1a1a1a" stroke-width="1.2"/>
<line x1="358.50" y1="241.60" x2="431.90" y2="241.60" stroke="#2a2a2a" stroke-width="1.25" stroke-dasharray="1.8,2.5"/>
<line x1="358.50" y1="195.30" x2="431.90" y2="195.30" stroke="#2a2a2a" stroke-width="1.25" stroke-dasharray="1.8,2.5"/>
<line x1="384.14" y1="182.90" x2="384.14" y2="253.60" stroke="#222" stroke-width="1.2" stroke-dasharray="1.6,2.5"/>
<line x1="406.87" y1="182.90" x2="406.87" y2="253.60" stroke="#222" stroke-width="1.2" stroke-dasharray="1.6,2.5"/>
<line x1="361.40" y1="254.20" x2="361.40" y2="257.40" stroke="#222" stroke-width="0.85"/>
<text x="361.40" y="267.20" font-size="7.6" text-anchor="middle" fill="#1a1a1a" stroke="#1a1a1a" stroke-width="0.1">0</text>
<line x1="384.14" y1="254.20" x2="384.14" y2="257.40" stroke="#222" stroke-width="0.85"/>
<text x="384.14" y="267.20" font-size="7.6" text-anchor="middle" fill="#1a1a1a" stroke="#1a1a1a" stroke-width="0.1">7</text>
<line x1="406.87" y1="254.20" x2="406.87" y2="257.40" stroke="#222" stroke-width="0.85"/>
<text x="406.87" y="267.20" font-size="7.6" text-anchor="middle" fill="#1a1a1a" stroke="#1a1a1a" stroke-width="0.1">14</text>
<line x1="429.61" y1="254.20" x2="429.61" y2="257.40" stroke="#222" stroke-width="0.85"/>
<text x="429.61" y="267.20" font-size="7.6" text-anchor="middle" fill="#1a1a1a" stroke="#1a1a1a" stroke-width="0.1">21</text>
<polyline points="377.64,235.12 380.89,235.12 384.14,244.84 387.38,244.84 390.63,195.30 393.88,195.30 397.13,195.30 400.38,195.30 403.62,195.30 406.87,195.30 410.12,195.30 413.37,195.30 416.62,195.30 419.86,195.30 423.11,195.30 426.36,195.30" fill="none" stroke="#3a5a9c" stroke-width="0.9" stroke-linejoin="round"/>
<circle cx="377.64" cy="235.12" r="1.75" fill="none" stroke="#3a5a9c" stroke-width="0.7"/>
<circle cx="380.89" cy="235.12" r="1.75" fill="none" stroke="#3a5a9c" stroke-width="0.7"/>
<circle cx="384.14" cy="244.84" r="1.75" fill="none" stroke="#3a5a9c" stroke-width="0.7"/>
<circle cx="387.38" cy="244.84" r="1.75" fill="none" stroke="#3a5a9c" stroke-width="0.7"/>
<circle cx="390.63" cy="195.30" r="1.75" fill="none" stroke="#3a5a9c" stroke-width="0.7"/>
<circle cx="393.88" cy="195.30" r="1.75" fill="none" stroke="#3a5a9c" stroke-width="0.7"/>
<circle cx="397.13" cy="195.30" r="1.75" fill="none" stroke="#3a5a9c" stroke-width="0.7"/>
<circle cx="400.38" cy="195.30" r="1.75" fill="none" stroke="#3a5a9c" stroke-width="0.7"/>
<circle cx="403.62" cy="195.30" r="1.75" fill="none" stroke="#3a5a9c" stroke-width="0.7"/>
<circle cx="406.87" cy="195.30" r="1.75" fill="none" stroke="#3a5a9c" stroke-width="0.7"/>
<circle cx="410.12" cy="195.30" r="1.75" fill="none" stroke="#3a5a9c" stroke-width="0.7"/>
<circle cx="413.37" cy="195.30" r="1.75" fill="none" stroke="#3a5a9c" stroke-width="0.7"/>
<circle cx="416.62" cy="195.30" r="1.75" fill="none" stroke="#3a5a9c" stroke-width="0.7"/>
<circle cx="419.86" cy="195.30" r="1.75" fill="none" stroke="#3a5a9c" stroke-width="0.7"/>
<circle cx="423.11" cy="195.30" r="1.75" fill="none" stroke="#3a5a9c" stroke-width="0.7"/>
<circle cx="426.36" cy="195.30" r="1.75" fill="none" stroke="#3a5a9c" stroke-width="0.7"/>
<polyline points="377.64,195.30 380.89,195.30 384.14,195.30 387.38,195.30 390.63,195.30 393.88,195.30 397.13,195.30 400.38,195.30 403.62,195.30 406.87,195.30 410.12,195.30 413.37,195.30 416.62,195.30 419.86,195.30 423.11,195.30 426.36,195.30" fill="none" stroke="#b8082e" stroke-width="0.92" stroke-linejoin="round"/>
<circle cx="377.64" cy="195.30" r="1.3" fill="#b8082e"/>
<circle cx="380.89" cy="195.30" r="1.3" fill="#b8082e"/>
<circle cx="384.14" cy="195.30" r="1.3" fill="#b8082e"/>
<circle cx="387.38" cy="195.30" r="1.3" fill="#b8082e"/>
<circle cx="390.63" cy="195.30" r="1.3" fill="#b8082e"/>
<circle cx="393.88" cy="195.30" r="1.3" fill="#b8082e"/>
<circle cx="397.13" cy="195.30" r="1.3" fill="#b8082e"/>
<circle cx="400.38" cy="195.30" r="1.3" fill="#b8082e"/>
<circle cx="403.62" cy="195.30" r="1.3" fill="#b8082e"/>
<circle cx="406.87" cy="195.30" r="1.3" fill="#b8082e"/>
<circle cx="410.12" cy="195.30" r="1.3" fill="#b8082e"/>
<circle cx="413.37" cy="195.30" r="1.3" fill="#b8082e"/>
<circle cx="416.62" cy="195.30" r="1.3" fill="#b8082e"/>
<circle cx="419.86" cy="195.30" r="1.3" fill="#b8082e"/>
<circle cx="423.11" cy="195.30" r="1.3" fill="#b8082e"/>
<circle cx="426.36" cy="195.30" r="1.3" fill="#b8082e"/>
<rect x="435.20" y="173.00" width="74.60" height="9.30" fill="#d7d7d7" stroke="#1a1a1a" stroke-width="1.2"/>
<rect x="436.40" y="174.20" width="72.20" height="6.90" fill="none" stroke="#e9e9e9" stroke-width="0.6"/>
<text x="472.50" y="179.60" font-size="6.25" text-anchor="middle" fill="#1a1a1a" stroke="#1a1a1a" stroke-width="0.1">Sliding Window = 7 days</text>
<rect x="435.20" y="182.30" width="74.60" height="71.90" fill="#fff" stroke="#1a1a1a" stroke-width="1.2"/>
<line x1="435.80" y1="241.60" x2="509.20" y2="241.60" stroke="#2a2a2a" stroke-width="1.25" stroke-dasharray="1.8,2.5"/>
<line x1="435.80" y1="195.30" x2="509.20" y2="195.30" stroke="#2a2a2a" stroke-width="1.25" stroke-dasharray="1.8,2.5"/>
<line x1="461.44" y1="182.90" x2="461.44" y2="253.60" stroke="#222" stroke-width="1.2" stroke-dasharray="1.6,2.5"/>
<line x1="484.17" y1="182.90" x2="484.17" y2="253.60" stroke="#222" stroke-width="1.2" stroke-dasharray="1.6,2.5"/>
<line x1="438.70" y1="254.20" x2="438.70" y2="257.40" stroke="#222" stroke-width="0.85"/>
<text x="438.70" y="267.20" font-size="7.6" text-anchor="middle" fill="#1a1a1a" stroke="#1a1a1a" stroke-width="0.1">0</text>
<line x1="461.44" y1="254.20" x2="461.44" y2="257.40" stroke="#222" stroke-width="0.85"/>
<text x="461.44" y="267.20" font-size="7.6" text-anchor="middle" fill="#1a1a1a" stroke="#1a1a1a" stroke-width="0.1">7</text>
<line x1="484.17" y1="254.20" x2="484.17" y2="257.40" stroke="#222" stroke-width="0.85"/>
<text x="484.17" y="267.20" font-size="7.6" text-anchor="middle" fill="#1a1a1a" stroke="#1a1a1a" stroke-width="0.1">14</text>
<line x1="506.91" y1="254.20" x2="506.91" y2="257.40" stroke="#222" stroke-width="0.85"/>
<text x="506.91" y="267.20" font-size="7.6" text-anchor="middle" fill="#1a1a1a" stroke="#1a1a1a" stroke-width="0.1">21</text>
<polyline points="458.19,236.04 461.44,244.84 464.68,243.91 467.93,243.45 471.18,195.30 474.43,195.30 477.68,195.30 480.92,195.30 484.17,195.30 487.42,195.30 490.67,195.30 493.92,195.30 497.16,195.30 500.41,195.30 503.66,195.30" fill="none" stroke="#3a5a9c" stroke-width="0.9" stroke-linejoin="round"/>
<circle cx="458.19" cy="236.04" r="1.75" fill="none" stroke="#3a5a9c" stroke-width="0.7"/>
<circle cx="461.44" cy="244.84" r="1.75" fill="none" stroke="#3a5a9c" stroke-width="0.7"/>
<circle cx="464.68" cy="243.91" r="1.75" fill="none" stroke="#3a5a9c" stroke-width="0.7"/>
<circle cx="467.93" cy="243.45" r="1.75" fill="none" stroke="#3a5a9c" stroke-width="0.7"/>
<circle cx="471.18" cy="195.30" r="1.75" fill="none" stroke="#3a5a9c" stroke-width="0.7"/>
<circle cx="474.43" cy="195.30" r="1.75" fill="none" stroke="#3a5a9c" stroke-width="0.7"/>
<circle cx="477.68" cy="195.30" r="1.75" fill="none" stroke="#3a5a9c" stroke-width="0.7"/>
<circle cx="480.92" cy="195.30" r="1.75" fill="none" stroke="#3a5a9c" stroke-width="0.7"/>
<circle cx="484.17" cy="195.30" r="1.75" fill="none" stroke="#3a5a9c" stroke-width="0.7"/>
<circle cx="487.42" cy="195.30" r="1.75" fill="none" stroke="#3a5a9c" stroke-width="0.7"/>
<circle cx="490.67" cy="195.30" r="1.75" fill="none" stroke="#3a5a9c" stroke-width="0.7"/>
<circle cx="493.92" cy="195.30" r="1.75" fill="none" stroke="#3a5a9c" stroke-width="0.7"/>
<circle cx="497.16" cy="195.30" r="1.75" fill="none" stroke="#3a5a9c" stroke-width="0.7"/>
<circle cx="500.41" cy="195.30" r="1.75" fill="none" stroke="#3a5a9c" stroke-width="0.7"/>
<circle cx="503.66" cy="195.30" r="1.75" fill="none" stroke="#3a5a9c" stroke-width="0.7"/>
<polyline points="458.19,195.30 461.44,195.30 464.68,195.30 467.93,195.30 471.18,195.30 474.43,195.30 477.68,195.30 480.92,195.30 484.17,195.30 487.42,195.30 490.67,195.30 493.92,195.30 497.16,195.30 500.41,195.30 503.66,195.30" fill="none" stroke="#b8082e" stroke-width="0.92" stroke-linejoin="round"/>
<circle cx="458.19" cy="195.30" r="1.3" fill="#b8082e"/>
<circle cx="461.44" cy="195.30" r="1.3" fill="#b8082e"/>
<circle cx="464.68" cy="195.30" r="1.3" fill="#b8082e"/>
<circle cx="467.93" cy="195.30" r="1.3" fill="#b8082e"/>
<circle cx="471.18" cy="195.30" r="1.3" fill="#b8082e"/>
<circle cx="474.43" cy="195.30" r="1.3" fill="#b8082e"/>
<circle cx="477.68" cy="195.30" r="1.3" fill="#b8082e"/>
<circle cx="480.92" cy="195.30" r="1.3" fill="#b8082e"/>
<circle cx="484.17" cy="195.30" r="1.3" fill="#b8082e"/>
<circle cx="487.42" cy="195.30" r="1.3" fill="#b8082e"/>
<circle cx="490.67" cy="195.30" r="1.3" fill="#b8082e"/>
<circle cx="493.92" cy="195.30" r="1.3" fill="#b8082e"/>
<circle cx="497.16" cy="195.30" r="1.3" fill="#b8082e"/>
<circle cx="500.41" cy="195.30" r="1.3" fill="#b8082e"/>
<circle cx="503.66" cy="195.30" r="1.3" fill="#b8082e"/>
<line x1="45.3" y1="241.60" x2="48.70" y2="241.60" stroke="#222" stroke-width="0.8"/>
<text x="42.60" y="244.30" font-size="7.6" text-anchor="end" fill="#1a1a1a" stroke="#1a1a1a" stroke-width="0.1">0.0</text>
<line x1="45.3" y1="218.45" x2="48.70" y2="218.45" stroke="#222" stroke-width="0.8"/>
<text x="42.60" y="221.15" font-size="7.6" text-anchor="end" fill="#1a1a1a" stroke="#1a1a1a" stroke-width="0.1">0.5</text>
<line x1="45.3" y1="195.30" x2="48.70" y2="195.30" stroke="#222" stroke-width="0.8"/>
<text x="42.60" y="198.00" font-size="7.6" text-anchor="end" fill="#1a1a1a" stroke="#1a1a1a" stroke-width="0.1">1.0</text>
<text x="0" y="0" font-size="9.6" text-anchor="middle" fill="#111" transform="translate(25.9,218.3) rotate(-90) scale(0.66,1)" stroke="#111" stroke-width="0.3">aRI</text>
<text x="0" y="0" font-size="9.9" text-anchor="middle" fill="#111" transform="translate(279.5,280.6) scale(0.665,1)" stroke="#111" stroke-width="0.3">Last day in window</text>
<text x="7.20" y="307.60" font-size="11.8" text-anchor="start" fill="#000" font-weight="bold">C</text>
<line x1="220.2" y1="317.2" x2="228.9" y2="317.2" stroke="#b8082e" stroke-width="0.9"/>
<circle cx="224.6" cy="317.2" r="1.45" fill="#b8082e"/>
<text x="231.70" y="319.10" font-size="6.15" text-anchor="start" fill="#111" stroke="#111" stroke-width="0.04">hourly mean</text>
<line x1="273.5" y1="317.2" x2="281.9" y2="317.2" stroke="#3a5a9c" stroke-width="0.9"/>
<circle cx="277.8" cy="317.2" r="1.8" fill="none" stroke="#3a5a9c" stroke-width="0.7"/>
<text x="284.80" y="319.10" font-size="6.15" text-anchor="start" fill="#111" stroke="#111" stroke-width="0.04">night-day difference</text>
<rect x="48.70" y="323.60" width="74.60" height="9.30" fill="#d7d7d7" stroke="#1a1a1a" stroke-width="1.2"/>
<rect x="49.90" y="324.80" width="72.20" height="6.90" fill="none" stroke="#e9e9e9" stroke-width="0.6"/>
<text x="86.00" y="330.20" font-size="6.25" text-anchor="middle" fill="#1a1a1a" stroke="#1a1a1a" stroke-width="0.1">Sliding Window = 2 days</text>
<rect x="48.70" y="332.90" width="74.60" height="71.90" fill="#fff" stroke="#1a1a1a" stroke-width="1.2"/>
<line x1="49.30" y1="392.20" x2="122.70" y2="392.20" stroke="#2a2a2a" stroke-width="1.25" stroke-dasharray="1.8,2.5"/>
<line x1="49.30" y1="345.90" x2="122.70" y2="345.90" stroke="#2a2a2a" stroke-width="1.25" stroke-dasharray="1.8,2.5"/>
<line x1="74.94" y1="333.50" x2="74.94" y2="404.20" stroke="#222" stroke-width="1.2" stroke-dasharray="1.6,2.5"/>
<line x1="97.67" y1="333.50" x2="97.67" y2="404.20" stroke="#222" stroke-width="1.2" stroke-dasharray="1.6,2.5"/>
<line x1="52.20" y1="404.80" x2="52.20" y2="408.00" stroke="#222" stroke-width="0.85"/>
<text x="52.20" y="417.80" font-size="7.6" text-anchor="middle" fill="#1a1a1a" stroke="#1a1a1a" stroke-width="0.1">0</text>
<line x1="74.94" y1="404.80" x2="74.94" y2="408.00" stroke="#222" stroke-width="0.85"/>
<text x="74.94" y="417.80" font-size="7.6" text-anchor="middle" fill="#1a1a1a" stroke="#1a1a1a" stroke-width="0.1">7</text>
<line x1="97.67" y1="404.80" x2="97.67" y2="408.00" stroke="#222" stroke-width="0.85"/>
<text x="97.67" y="417.80" font-size="7.6" text-anchor="middle" fill="#1a1a1a" stroke="#1a1a1a" stroke-width="0.1">14</text>
<line x1="120.41" y1="404.80" x2="120.41" y2="408.00" stroke="#222" stroke-width="0.85"/>
<text x="120.41" y="417.80" font-size="7.6" text-anchor="middle" fill="#1a1a1a" stroke="#1a1a1a" stroke-width="0.1">21</text>
<polyline points="55.45,394.98 58.70,390.35 61.94,394.98 65.19,394.98 68.44,394.51 71.69,345.90 74.94,345.90 78.18,345.90 81.43,361.18 84.68,394.98 87.93,393.59 91.18,374.14 94.42,374.14 97.67,374.14 100.92,383.87 104.17,390.35 107.42,345.90 110.66,345.90 113.91,374.14 117.16,374.14" fill="none" stroke="#3a5a9c" stroke-width="0.9" stroke-linejoin="round"/>
<circle cx="55.45" cy="394.98" r="1.75" fill="none" stroke="#3a5a9c" stroke-width="0.7"/>
<circle cx="58.70" cy="390.35" r="1.75" fill="none" stroke="#3a5a9c" stroke-width="0.7"/>
<circle cx="61.94" cy="394.98" r="1.75" fill="none" stroke="#3a5a9c" stroke-width="0.7"/>
<circle cx="65.19" cy="394.98" r="1.75" fill="none" stroke="#3a5a9c" stroke-width="0.7"/>
<circle cx="68.44" cy="394.51" r="1.75" fill="none" stroke="#3a5a9c" stroke-width="0.7"/>
<circle cx="71.69" cy="345.90" r="1.75" fill="none" stroke="#3a5a9c" stroke-width="0.7"/>
<circle cx="74.94" cy="345.90" r="1.75" fill="none" stroke="#3a5a9c" stroke-width="0.7"/>
<circle cx="78.18" cy="345.90" r="1.75" fill="none" stroke="#3a5a9c" stroke-width="0.7"/>
<circle cx="81.43" cy="361.18" r="1.75" fill="none" stroke="#3a5a9c" stroke-width="0.7"/>
<circle cx="84.68" cy="394.98" r="1.75" fill="none" stroke="#3a5a9c" stroke-width="0.7"/>
<circle cx="87.93" cy="393.59" r="1.75" fill="none" stroke="#3a5a9c" stroke-width="0.7"/>
<circle cx="91.18" cy="374.14" r="1.75" fill="none" stroke="#3a5a9c" stroke-width="0.7"/>
<circle cx="94.42" cy="374.14" r="1.75" fill="none" stroke="#3a5a9c" stroke-width="0.7"/>
<circle cx="97.67" cy="374.14" r="1.75" fill="none" stroke="#3a5a9c" stroke-width="0.7"/>
<circle cx="100.92" cy="383.87" r="1.75" fill="none" stroke="#3a5a9c" stroke-width="0.7"/>
<circle cx="104.17" cy="390.35" r="1.75" fill="none" stroke="#3a5a9c" stroke-width="0.7"/>
<circle cx="107.42" cy="345.90" r="1.75" fill="none" stroke="#3a5a9c" stroke-width="0.7"/>
<circle cx="110.66" cy="345.90" r="1.75" fill="none" stroke="#3a5a9c" stroke-width="0.7"/>
<circle cx="113.91" cy="374.14" r="1.75" fill="none" stroke="#3a5a9c" stroke-width="0.7"/>
<circle cx="117.16" cy="374.14" r="1.75" fill="none" stroke="#3a5a9c" stroke-width="0.7"/>
<polyline points="55.45,394.98 58.70,394.51 61.94,395.90 65.19,395.90 68.44,394.51 71.69,391.27 74.94,389.88 78.18,382.94 81.43,394.51 84.68,393.59 87.93,345.90 91.18,345.90 94.42,390.35 97.67,374.14 100.92,383.40 104.17,389.88 107.42,390.35 110.66,374.14 113.91,374.14 117.16,393.59" fill="none" stroke="#b8082e" stroke-width="0.92" stroke-linejoin="round"/>
<circle cx="55.45" cy="394.98" r="1.3" fill="#b8082e"/>
<circle cx="58.70" cy="394.51" r="1.3" fill="#b8082e"/>
<circle cx="61.94" cy="395.90" r="1.3" fill="#b8082e"/>
<circle cx="65.19" cy="395.90" r="1.3" fill="#b8082e"/>
<circle cx="68.44" cy="394.51" r="1.3" fill="#b8082e"/>
<circle cx="71.69" cy="391.27" r="1.3" fill="#b8082e"/>
<circle cx="74.94" cy="389.88" r="1.3" fill="#b8082e"/>
<circle cx="78.18" cy="382.94" r="1.3" fill="#b8082e"/>
<circle cx="81.43" cy="394.51" r="1.3" fill="#b8082e"/>
<circle cx="84.68" cy="393.59" r="1.3" fill="#b8082e"/>
<circle cx="87.93" cy="345.90" r="1.3" fill="#b8082e"/>
<circle cx="91.18" cy="345.90" r="1.3" fill="#b8082e"/>
<circle cx="94.42" cy="390.35" r="1.3" fill="#b8082e"/>
<circle cx="97.67" cy="374.14" r="1.3" fill="#b8082e"/>
<circle cx="100.92" cy="383.40" r="1.3" fill="#b8082e"/>
<circle cx="104.17" cy="389.88" r="1.3" fill="#b8082e"/>
<circle cx="107.42" cy="390.35" r="1.3" fill="#b8082e"/>
<circle cx="110.66" cy="374.14" r="1.3" fill="#b8082e"/>
<circle cx="113.91" cy="374.14" r="1.3" fill="#b8082e"/>
<circle cx="117.16" cy="393.59" r="1.3" fill="#b8082e"/>
<rect x="126.34" y="323.60" width="74.60" height="9.30" fill="#d7d7d7" stroke="#1a1a1a" stroke-width="1.2"/>
<rect x="127.54" y="324.80" width="72.20" height="6.90" fill="none" stroke="#e9e9e9" stroke-width="0.6"/>
<text x="163.64" y="330.20" font-size="6.25" text-anchor="middle" fill="#1a1a1a" stroke="#1a1a1a" stroke-width="0.1">Sliding Window = 3 days</text>
<rect x="126.34" y="332.90" width="74.60" height="71.90" fill="#fff" stroke="#1a1a1a" stroke-width="1.2"/>
<line x1="126.94" y1="392.20" x2="200.34" y2="392.20" stroke="#2a2a2a" stroke-width="1.25" stroke-dasharray="1.8,2.5"/>
<line x1="126.94" y1="345.90" x2="200.34" y2="345.90" stroke="#2a2a2a" stroke-width="1.25" stroke-dasharray="1.8,2.5"/>
<line x1="152.58" y1="333.50" x2="152.58" y2="404.20" stroke="#222" stroke-width="1.2" stroke-dasharray="1.6,2.5"/>
<line x1="175.31" y1="333.50" x2="175.31" y2="404.20" stroke="#222" stroke-width="1.2" stroke-dasharray="1.6,2.5"/>
<line x1="129.84" y1="404.80" x2="129.84" y2="408.00" stroke="#222" stroke-width="0.85"/>
<text x="129.84" y="417.80" font-size="7.6" text-anchor="middle" fill="#1a1a1a" stroke="#1a1a1a" stroke-width="0.1">0</text>
<line x1="152.58" y1="404.80" x2="152.58" y2="408.00" stroke="#222" stroke-width="0.85"/>
<text x="152.58" y="417.80" font-size="7.6" text-anchor="middle" fill="#1a1a1a" stroke="#1a1a1a" stroke-width="0.1">7</text>
<line x1="175.31" y1="404.80" x2="175.31" y2="408.00" stroke="#222" stroke-width="0.85"/>
<text x="175.31" y="417.80" font-size="7.6" text-anchor="middle" fill="#1a1a1a" stroke="#1a1a1a" stroke-width="0.1">14</text>
<line x1="198.05" y1="404.80" x2="198.05" y2="408.00" stroke="#222" stroke-width="0.85"/>
<text x="198.05" y="417.80" font-size="7.6" text-anchor="middle" fill="#1a1a1a" stroke="#1a1a1a" stroke-width="0.1">21</text>
<polyline points="136.34,390.35 139.58,390.35 142.83,395.90 146.08,395.90 149.33,345.90 152.58,345.90 155.82,345.90 159.07,345.90 162.32,361.64 165.57,345.90 168.82,394.51 172.06,361.18 175.31,374.14 178.56,374.14 181.81,390.35 185.06,361.18 188.30,345.90 191.55,345.90 194.80,374.14" fill="none" stroke="#3a5a9c" stroke-width="0.9" stroke-linejoin="round"/>
<circle cx="136.34" cy="390.35" r="1.75" fill="none" stroke="#3a5a9c" stroke-width="0.7"/>
<circle cx="139.58" cy="390.35" r="1.75" fill="none" stroke="#3a5a9c" stroke-width="0.7"/>
<circle cx="142.83" cy="395.90" r="1.75" fill="none" stroke="#3a5a9c" stroke-width="0.7"/>
<circle cx="146.08" cy="395.90" r="1.75" fill="none" stroke="#3a5a9c" stroke-width="0.7"/>
<circle cx="149.33" cy="345.90" r="1.75" fill="none" stroke="#3a5a9c" stroke-width="0.7"/>
<circle cx="152.58" cy="345.90" r="1.75" fill="none" stroke="#3a5a9c" stroke-width="0.7"/>
<circle cx="155.82" cy="345.90" r="1.75" fill="none" stroke="#3a5a9c" stroke-width="0.7"/>
<circle cx="159.07" cy="345.90" r="1.75" fill="none" stroke="#3a5a9c" stroke-width="0.7"/>
<circle cx="162.32" cy="361.64" r="1.75" fill="none" stroke="#3a5a9c" stroke-width="0.7"/>
<circle cx="165.57" cy="345.90" r="1.75" fill="none" stroke="#3a5a9c" stroke-width="0.7"/>
<circle cx="168.82" cy="394.51" r="1.75" fill="none" stroke="#3a5a9c" stroke-width="0.7"/>
<circle cx="172.06" cy="361.18" r="1.75" fill="none" stroke="#3a5a9c" stroke-width="0.7"/>
<circle cx="175.31" cy="374.14" r="1.75" fill="none" stroke="#3a5a9c" stroke-width="0.7"/>
<circle cx="178.56" cy="374.14" r="1.75" fill="none" stroke="#3a5a9c" stroke-width="0.7"/>
<circle cx="181.81" cy="390.35" r="1.75" fill="none" stroke="#3a5a9c" stroke-width="0.7"/>
<circle cx="185.06" cy="361.18" r="1.75" fill="none" stroke="#3a5a9c" stroke-width="0.7"/>
<circle cx="188.30" cy="345.90" r="1.75" fill="none" stroke="#3a5a9c" stroke-width="0.7"/>
<circle cx="191.55" cy="345.90" r="1.75" fill="none" stroke="#3a5a9c" stroke-width="0.7"/>
<circle cx="194.80" cy="374.14" r="1.75" fill="none" stroke="#3a5a9c" stroke-width="0.7"/>
<polyline points="136.34,394.98 139.58,395.90 142.83,395.90 146.08,395.90 149.33,390.35 152.58,390.81 155.82,373.22 159.07,390.35 162.32,383.40 165.57,383.40 168.82,345.90 172.06,345.90 175.31,374.14 178.56,383.40 181.81,389.88 185.06,389.88 188.30,389.88 191.55,393.59 194.80,393.59" fill="none" stroke="#b8082e" stroke-width="0.92" stroke-linejoin="round"/>
<circle cx="136.34" cy="394.98" r="1.3" fill="#b8082e"/>
<circle cx="139.58" cy="395.90" r="1.3" fill="#b8082e"/>
<circle cx="142.83" cy="395.90" r="1.3" fill="#b8082e"/>
<circle cx="146.08" cy="395.90" r="1.3" fill="#b8082e"/>
<circle cx="149.33" cy="390.35" r="1.3" fill="#b8082e"/>
<circle cx="152.58" cy="390.81" r="1.3" fill="#b8082e"/>
<circle cx="155.82" cy="373.22" r="1.3" fill="#b8082e"/>
<circle cx="159.07" cy="390.35" r="1.3" fill="#b8082e"/>
<circle cx="162.32" cy="383.40" r="1.3" fill="#b8082e"/>
<circle cx="165.57" cy="383.40" r="1.3" fill="#b8082e"/>
<circle cx="168.82" cy="345.90" r="1.3" fill="#b8082e"/>
<circle cx="172.06" cy="345.90" r="1.3" fill="#b8082e"/>
<circle cx="175.31" cy="374.14" r="1.3" fill="#b8082e"/>
<circle cx="178.56" cy="383.40" r="1.3" fill="#b8082e"/>
<circle cx="181.81" cy="389.88" r="1.3" fill="#b8082e"/>
<circle cx="185.06" cy="389.88" r="1.3" fill="#b8082e"/>
<circle cx="188.30" cy="389.88" r="1.3" fill="#b8082e"/>
<circle cx="191.55" cy="393.59" r="1.3" fill="#b8082e"/>
<circle cx="194.80" cy="393.59" r="1.3" fill="#b8082e"/>
<rect x="203.98" y="323.60" width="74.60" height="9.30" fill="#d7d7d7" stroke="#1a1a1a" stroke-width="1.2"/>
<rect x="205.18" y="324.80" width="72.20" height="6.90" fill="none" stroke="#e9e9e9" stroke-width="0.6"/>
<text x="241.28" y="330.20" font-size="6.25" text-anchor="middle" fill="#1a1a1a" stroke="#1a1a1a" stroke-width="0.1">Sliding Window = 4 days</text>
<rect x="203.98" y="332.90" width="74.60" height="71.90" fill="#fff" stroke="#1a1a1a" stroke-width="1.2"/>
<line x1="204.58" y1="392.20" x2="277.98" y2="392.20" stroke="#2a2a2a" stroke-width="1.25" stroke-dasharray="1.8,2.5"/>
<line x1="204.58" y1="345.90" x2="277.98" y2="345.90" stroke="#2a2a2a" stroke-width="1.25" stroke-dasharray="1.8,2.5"/>
<line x1="230.22" y1="333.50" x2="230.22" y2="404.20" stroke="#222" stroke-width="1.2" stroke-dasharray="1.6,2.5"/>
<line x1="252.95" y1="333.50" x2="252.95" y2="404.20" stroke="#222" stroke-width="1.2" stroke-dasharray="1.6,2.5"/>
<line x1="207.48" y1="404.80" x2="207.48" y2="408.00" stroke="#222" stroke-width="0.85"/>
<text x="207.48" y="417.80" font-size="7.6" text-anchor="middle" fill="#1a1a1a" stroke="#1a1a1a" stroke-width="0.1">0</text>
<line x1="230.22" y1="404.80" x2="230.22" y2="408.00" stroke="#222" stroke-width="0.85"/>
<text x="230.22" y="417.80" font-size="7.6" text-anchor="middle" fill="#1a1a1a" stroke="#1a1a1a" stroke-width="0.1">7</text>
<line x1="252.95" y1="404.80" x2="252.95" y2="408.00" stroke="#222" stroke-width="0.85"/>
<text x="252.95" y="417.80" font-size="7.6" text-anchor="middle" fill="#1a1a1a" stroke="#1a1a1a" stroke-width="0.1">14</text>
<line x1="275.69" y1="404.80" x2="275.69" y2="408.00" stroke="#222" stroke-width="0.85"/>
<text x="275.69" y="417.80" font-size="7.6" text-anchor="middle" fill="#1a1a1a" stroke="#1a1a1a" stroke-width="0.1">21</text>
<polyline points="217.22,390.35 220.47,395.90 223.72,394.98 226.97,395.90 230.22,345.90 233.46,345.90 236.71,345.90 239.96,345.90 243.21,345.90 246.46,345.90 249.70,361.18 252.95,361.18 256.20,391.27 259.45,389.88 262.70,361.18 265.94,345.90 269.19,345.90 272.44,345.90" fill="none" stroke="#3a5a9c" stroke-width="0.9" stroke-linejoin="round"/>
<circle cx="217.22" cy="390.35" r="1.75" fill="none" stroke="#3a5a9c" stroke-width="0.7"/>
<circle cx="220.47" cy="395.90" r="1.75" fill="none" stroke="#3a5a9c" stroke-width="0.7"/>
<circle cx="223.72" cy="394.98" r="1.75" fill="none" stroke="#3a5a9c" stroke-width="0.7"/>
<circle cx="226.97" cy="395.90" r="1.75" fill="none" stroke="#3a5a9c" stroke-width="0.7"/>
<circle cx="230.22" cy="345.90" r="1.75" fill="none" stroke="#3a5a9c" stroke-width="0.7"/>
<circle cx="233.46" cy="345.90" r="1.75" fill="none" stroke="#3a5a9c" stroke-width="0.7"/>
<circle cx="236.71" cy="345.90" r="1.75" fill="none" stroke="#3a5a9c" stroke-width="0.7"/>
<circle cx="239.96" cy="345.90" r="1.75" fill="none" stroke="#3a5a9c" stroke-width="0.7"/>
<circle cx="243.21" cy="345.90" r="1.75" fill="none" stroke="#3a5a9c" stroke-width="0.7"/>
<circle cx="246.46" cy="345.90" r="1.75" fill="none" stroke="#3a5a9c" stroke-width="0.7"/>
<circle cx="249.70" cy="361.18" r="1.75" fill="none" stroke="#3a5a9c" stroke-width="0.7"/>
<circle cx="252.95" cy="361.18" r="1.75" fill="none" stroke="#3a5a9c" stroke-width="0.7"/>
<circle cx="256.20" cy="391.27" r="1.75" fill="none" stroke="#3a5a9c" stroke-width="0.7"/>
<circle cx="259.45" cy="389.88" r="1.75" fill="none" stroke="#3a5a9c" stroke-width="0.7"/>
<circle cx="262.70" cy="361.18" r="1.75" fill="none" stroke="#3a5a9c" stroke-width="0.7"/>
<circle cx="265.94" cy="345.90" r="1.75" fill="none" stroke="#3a5a9c" stroke-width="0.7"/>
<circle cx="269.19" cy="345.90" r="1.75" fill="none" stroke="#3a5a9c" stroke-width="0.7"/>
<circle cx="272.44" cy="345.90" r="1.75" fill="none" stroke="#3a5a9c" stroke-width="0.7"/>
<polyline points="217.22,392.66 220.47,390.81 223.72,394.98 226.97,395.90 230.22,394.98 233.46,383.40 236.71,383.40 239.96,383.40 243.21,383.40 246.46,361.18 249.70,361.18 252.95,361.18 256.20,393.59 259.45,389.88 262.70,389.88 265.94,389.88 269.19,393.59 272.44,393.59" fill="none" stroke="#b8082e" stroke-width="0.92" stroke-linejoin="round"/>
<circle cx="217.22" cy="392.66" r="1.3" fill="#b8082e"/>
<circle cx="220.47" cy="390.81" r="1.3" fill="#b8082e"/>
<circle cx="223.72" cy="394.98" r="1.3" fill="#b8082e"/>
<circle cx="226.97" cy="395.90" r="1.3" fill="#b8082e"/>
<circle cx="230.22" cy="394.98" r="1.3" fill="#b8082e"/>
<circle cx="233.46" cy="383.40" r="1.3" fill="#b8082e"/>
<circle cx="236.71" cy="383.40" r="1.3" fill="#b8082e"/>
<circle cx="239.96" cy="383.40" r="1.3" fill="#b8082e"/>
<circle cx="243.21" cy="383.40" r="1.3" fill="#b8082e"/>
<circle cx="246.46" cy="361.18" r="1.3" fill="#b8082e"/>
<circle cx="249.70" cy="361.18" r="1.3" fill="#b8082e"/>
<circle cx="252.95" cy="361.18" r="1.3" fill="#b8082e"/>
<circle cx="256.20" cy="393.59" r="1.3" fill="#b8082e"/>
<circle cx="259.45" cy="389.88" r="1.3" fill="#b8082e"/>
<circle cx="262.70" cy="389.88" r="1.3" fill="#b8082e"/>
<circle cx="265.94" cy="389.88" r="1.3" fill="#b8082e"/>
<circle cx="269.19" cy="393.59" r="1.3" fill="#b8082e"/>
<circle cx="272.44" cy="393.59" r="1.3" fill="#b8082e"/>
<rect x="281.62" y="323.60" width="74.60" height="9.30" fill="#d7d7d7" stroke="#1a1a1a" stroke-width="1.2"/>
<rect x="282.82" y="324.80" width="72.20" height="6.90" fill="none" stroke="#e9e9e9" stroke-width="0.6"/>
<text x="318.92" y="330.20" font-size="6.25" text-anchor="middle" fill="#1a1a1a" stroke="#1a1a1a" stroke-width="0.1">Sliding Window = 5 days</text>
<rect x="281.62" y="332.90" width="74.60" height="71.90" fill="#fff" stroke="#1a1a1a" stroke-width="1.2"/>
<line x1="282.22" y1="392.20" x2="355.62" y2="392.20" stroke="#2a2a2a" stroke-width="1.25" stroke-dasharray="1.8,2.5"/>
<line x1="282.22" y1="345.90" x2="355.62" y2="345.90" stroke="#2a2a2a" stroke-width="1.25" stroke-dasharray="1.8,2.5"/>
<line x1="307.86" y1="333.50" x2="307.86" y2="404.20" stroke="#222" stroke-width="1.2" stroke-dasharray="1.6,2.5"/>
<line x1="330.59" y1="333.50" x2="330.59" y2="404.20" stroke="#222" stroke-width="1.2" stroke-dasharray="1.6,2.5"/>
<line x1="285.12" y1="404.80" x2="285.12" y2="408.00" stroke="#222" stroke-width="0.85"/>
<text x="285.12" y="417.80" font-size="7.6" text-anchor="middle" fill="#1a1a1a" stroke="#1a1a1a" stroke-width="0.1">0</text>
<line x1="307.86" y1="404.80" x2="307.86" y2="408.00" stroke="#222" stroke-width="0.85"/>
<text x="307.86" y="417.80" font-size="7.6" text-anchor="middle" fill="#1a1a1a" stroke="#1a1a1a" stroke-width="0.1">7</text>
<line x1="330.59" y1="404.80" x2="330.59" y2="408.00" stroke="#222" stroke-width="0.85"/>
<text x="330.59" y="417.80" font-size="7.6" text-anchor="middle" fill="#1a1a1a" stroke="#1a1a1a" stroke-width="0.1">14</text>
<line x1="353.33" y1="404.80" x2="353.33" y2="408.00" stroke="#222" stroke-width="0.85"/>
<text x="353.33" y="417.80" font-size="7.6" text-anchor="middle" fill="#1a1a1a" stroke="#1a1a1a" stroke-width="0.1">21</text>
<polyline points="298.11,394.51 301.36,390.35 304.61,395.90 307.86,345.90 311.10,345.90 314.35,345.90 317.60,345.90 320.85,345.90 324.10,345.90 327.34,361.64 330.59,361.64 333.84,361.64 337.09,390.35 340.34,361.64 343.58,345.90 346.83,345.90 350.08,361.64" fill="none" stroke="#3a5a9c" stroke-width="0.9" stroke-linejoin="round"/>
<circle cx="298.11" cy="394.51" r="1.75" fill="none" stroke="#3a5a9c" stroke-width="0.7"/>
<circle cx="301.36" cy="390.35" r="1.75" fill="none" stroke="#3a5a9c" stroke-width="0.7"/>
<circle cx="304.61" cy="395.90" r="1.75" fill="none" stroke="#3a5a9c" stroke-width="0.7"/>
<circle cx="307.86" cy="345.90" r="1.75" fill="none" stroke="#3a5a9c" stroke-width="0.7"/>
<circle cx="311.10" cy="345.90" r="1.75" fill="none" stroke="#3a5a9c" stroke-width="0.7"/>
<circle cx="314.35" cy="345.90" r="1.75" fill="none" stroke="#3a5a9c" stroke-width="0.7"/>
<circle cx="317.60" cy="345.90" r="1.75" fill="none" stroke="#3a5a9c" stroke-width="0.7"/>
<circle cx="320.85" cy="345.90" r="1.75" fill="none" stroke="#3a5a9c" stroke-width="0.7"/>
<circle cx="324.10" cy="345.90" r="1.75" fill="none" stroke="#3a5a9c" stroke-width="0.7"/>
<circle cx="327.34" cy="361.64" r="1.75" fill="none" stroke="#3a5a9c" stroke-width="0.7"/>
<circle cx="330.59" cy="361.64" r="1.75" fill="none" stroke="#3a5a9c" stroke-width="0.7"/>
<circle cx="333.84" cy="361.64" r="1.75" fill="none" stroke="#3a5a9c" stroke-width="0.7"/>
<circle cx="337.09" cy="390.35" r="1.75" fill="none" stroke="#3a5a9c" stroke-width="0.7"/>
<circle cx="340.34" cy="361.64" r="1.75" fill="none" stroke="#3a5a9c" stroke-width="0.7"/>
<circle cx="343.58" cy="345.90" r="1.75" fill="none" stroke="#3a5a9c" stroke-width="0.7"/>
<circle cx="346.83" cy="345.90" r="1.75" fill="none" stroke="#3a5a9c" stroke-width="0.7"/>
<circle cx="350.08" cy="361.64" r="1.75" fill="none" stroke="#3a5a9c" stroke-width="0.7"/>
<polyline points="298.11,390.81 301.36,392.66 304.61,394.98 307.86,395.90 311.10,383.40 314.35,383.40 317.60,383.40 320.85,383.40 324.10,374.14 327.34,374.14 330.59,361.18 333.84,374.14 337.09,390.35 340.34,383.40 343.58,389.88 346.83,383.40 350.08,393.59" fill="none" stroke="#b8082e" stroke-width="0.92" stroke-linejoin="round"/>
<circle cx="298.11" cy="390.81" r="1.3" fill="#b8082e"/>
<circle cx="301.36" cy="392.66" r="1.3" fill="#b8082e"/>
<circle cx="304.61" cy="394.98" r="1.3" fill="#b8082e"/>
<circle cx="307.86" cy="395.90" r="1.3" fill="#b8082e"/>
<circle cx="311.10" cy="383.40" r="1.3" fill="#b8082e"/>
<circle cx="314.35" cy="383.40" r="1.3" fill="#b8082e"/>
<circle cx="317.60" cy="383.40" r="1.3" fill="#b8082e"/>
<circle cx="320.85" cy="383.40" r="1.3" fill="#b8082e"/>
<circle cx="324.10" cy="374.14" r="1.3" fill="#b8082e"/>
<circle cx="327.34" cy="374.14" r="1.3" fill="#b8082e"/>
<circle cx="330.59" cy="361.18" r="1.3" fill="#b8082e"/>
<circle cx="333.84" cy="374.14" r="1.3" fill="#b8082e"/>
<circle cx="337.09" cy="390.35" r="1.3" fill="#b8082e"/>
<circle cx="340.34" cy="383.40" r="1.3" fill="#b8082e"/>
<circle cx="343.58" cy="389.88" r="1.3" fill="#b8082e"/>
<circle cx="346.83" cy="383.40" r="1.3" fill="#b8082e"/>
<circle cx="350.08" cy="393.59" r="1.3" fill="#b8082e"/>
<rect x="359.26" y="323.60" width="74.60" height="9.30" fill="#d7d7d7" stroke="#1a1a1a" stroke-width="1.2"/>
<rect x="360.46" y="324.80" width="72.20" height="6.90" fill="none" stroke="#e9e9e9" stroke-width="0.6"/>
<text x="396.56" y="330.20" font-size="6.25" text-anchor="middle" fill="#1a1a1a" stroke="#1a1a1a" stroke-width="0.1">Sliding Window = 6 days</text>
<rect x="359.26" y="332.90" width="74.60" height="71.90" fill="#fff" stroke="#1a1a1a" stroke-width="1.2"/>
<line x1="359.86" y1="392.20" x2="433.26" y2="392.20" stroke="#2a2a2a" stroke-width="1.25" stroke-dasharray="1.8,2.5"/>
<line x1="359.86" y1="345.90" x2="433.26" y2="345.90" stroke="#2a2a2a" stroke-width="1.25" stroke-dasharray="1.8,2.5"/>
<line x1="385.50" y1="333.50" x2="385.50" y2="404.20" stroke="#222" stroke-width="1.2" stroke-dasharray="1.6,2.5"/>
<line x1="408.23" y1="333.50" x2="408.23" y2="404.20" stroke="#222" stroke-width="1.2" stroke-dasharray="1.6,2.5"/>
<line x1="362.76" y1="404.80" x2="362.76" y2="408.00" stroke="#222" stroke-width="0.85"/>
<text x="362.76" y="417.80" font-size="7.6" text-anchor="middle" fill="#1a1a1a" stroke="#1a1a1a" stroke-width="0.1">0</text>
<line x1="385.50" y1="404.80" x2="385.50" y2="408.00" stroke="#222" stroke-width="0.85"/>
<text x="385.50" y="417.80" font-size="7.6" text-anchor="middle" fill="#1a1a1a" stroke="#1a1a1a" stroke-width="0.1">7</text>
<line x1="408.23" y1="404.80" x2="408.23" y2="408.00" stroke="#222" stroke-width="0.85"/>
<text x="408.23" y="417.80" font-size="7.6" text-anchor="middle" fill="#1a1a1a" stroke="#1a1a1a" stroke-width="0.1">14</text>
<line x1="430.97" y1="404.80" x2="430.97" y2="408.00" stroke="#222" stroke-width="0.85"/>
<text x="430.97" y="417.80" font-size="7.6" text-anchor="middle" fill="#1a1a1a" stroke="#1a1a1a" stroke-width="0.1">21</text>
<polyline points="379.00,390.35 382.25,390.35 385.50,345.90 388.74,345.90 391.99,345.90 395.24,345.90 398.49,345.90 401.74,345.90 404.98,345.90 408.23,361.18 411.48,374.14 414.73,383.40 417.98,361.64 421.22,361.64 424.47,345.90 427.72,345.90" fill="none" stroke="#3a5a9c" stroke-width="0.9" stroke-linejoin="round"/>
<circle cx="379.00" cy="390.35" r="1.75" fill="none" stroke="#3a5a9c" stroke-width="0.7"/>
<circle cx="382.25" cy="390.35" r="1.75" fill="none" stroke="#3a5a9c" stroke-width="0.7"/>
<circle cx="385.50" cy="345.90" r="1.75" fill="none" stroke="#3a5a9c" stroke-width="0.7"/>
<circle cx="388.74" cy="345.90" r="1.75" fill="none" stroke="#3a5a9c" stroke-width="0.7"/>
<circle cx="391.99" cy="345.90" r="1.75" fill="none" stroke="#3a5a9c" stroke-width="0.7"/>
<circle cx="395.24" cy="345.90" r="1.75" fill="none" stroke="#3a5a9c" stroke-width="0.7"/>
<circle cx="398.49" cy="345.90" r="1.75" fill="none" stroke="#3a5a9c" stroke-width="0.7"/>
<circle cx="401.74" cy="345.90" r="1.75" fill="none" stroke="#3a5a9c" stroke-width="0.7"/>
<circle cx="404.98" cy="345.90" r="1.75" fill="none" stroke="#3a5a9c" stroke-width="0.7"/>
<circle cx="408.23" cy="361.18" r="1.75" fill="none" stroke="#3a5a9c" stroke-width="0.7"/>
<circle cx="411.48" cy="374.14" r="1.75" fill="none" stroke="#3a5a9c" stroke-width="0.7"/>
<circle cx="414.73" cy="383.40" r="1.75" fill="none" stroke="#3a5a9c" stroke-width="0.7"/>
<circle cx="417.98" cy="361.64" r="1.75" fill="none" stroke="#3a5a9c" stroke-width="0.7"/>
<circle cx="421.22" cy="361.64" r="1.75" fill="none" stroke="#3a5a9c" stroke-width="0.7"/>
<circle cx="424.47" cy="345.90" r="1.75" fill="none" stroke="#3a5a9c" stroke-width="0.7"/>
<circle cx="427.72" cy="345.90" r="1.75" fill="none" stroke="#3a5a9c" stroke-width="0.7"/>
<polyline points="379.00,394.51 382.25,394.51 385.50,395.90 388.74,390.81 391.99,383.40 395.24,383.40 398.49,383.40 401.74,383.40 404.98,361.18 408.23,361.18 411.48,374.14 414.73,389.88 417.98,389.88 421.22,383.40 424.47,383.40 427.72,390.35" fill="none" stroke="#b8082e" stroke-width="0.92" stroke-linejoin="round"/>
<circle cx="379.00" cy="394.51" r="1.3" fill="#b8082e"/>
<circle cx="382.25" cy="394.51" r="1.3" fill="#b8082e"/>
<circle cx="385.50" cy="395.90" r="1.3" fill="#b8082e"/>
<circle cx="388.74" cy="390.81" r="1.3" fill="#b8082e"/>
<circle cx="391.99" cy="383.40" r="1.3" fill="#b8082e"/>
<circle cx="395.24" cy="383.40" r="1.3" fill="#b8082e"/>
<circle cx="398.49" cy="383.40" r="1.3" fill="#b8082e"/>
<circle cx="401.74" cy="383.40" r="1.3" fill="#b8082e"/>
<circle cx="404.98" cy="361.18" r="1.3" fill="#b8082e"/>
<circle cx="408.23" cy="361.18" r="1.3" fill="#b8082e"/>
<circle cx="411.48" cy="374.14" r="1.3" fill="#b8082e"/>
<circle cx="414.73" cy="389.88" r="1.3" fill="#b8082e"/>
<circle cx="417.98" cy="389.88" r="1.3" fill="#b8082e"/>
<circle cx="421.22" cy="383.40" r="1.3" fill="#b8082e"/>
<circle cx="424.47" cy="383.40" r="1.3" fill="#b8082e"/>
<circle cx="427.72" cy="390.35" r="1.3" fill="#b8082e"/>
<rect x="436.90" y="323.60" width="74.60" height="9.30" fill="#d7d7d7" stroke="#1a1a1a" stroke-width="1.2"/>
<rect x="438.10" y="324.80" width="72.20" height="6.90" fill="none" stroke="#e9e9e9" stroke-width="0.6"/>
<text x="474.20" y="330.20" font-size="6.25" text-anchor="middle" fill="#1a1a1a" stroke="#1a1a1a" stroke-width="0.1">Sliding Window = 7 days</text>
<rect x="436.90" y="332.90" width="74.60" height="71.90" fill="#fff" stroke="#1a1a1a" stroke-width="1.2"/>
<line x1="437.50" y1="392.20" x2="510.90" y2="392.20" stroke="#2a2a2a" stroke-width="1.25" stroke-dasharray="1.8,2.5"/>
<line x1="437.50" y1="345.90" x2="510.90" y2="345.90" stroke="#2a2a2a" stroke-width="1.25" stroke-dasharray="1.8,2.5"/>
<line x1="463.14" y1="333.50" x2="463.14" y2="404.20" stroke="#222" stroke-width="1.2" stroke-dasharray="1.6,2.5"/>
<line x1="485.87" y1="333.50" x2="485.87" y2="404.20" stroke="#222" stroke-width="1.2" stroke-dasharray="1.6,2.5"/>
<line x1="440.40" y1="404.80" x2="440.40" y2="408.00" stroke="#222" stroke-width="0.85"/>
<text x="440.40" y="417.80" font-size="7.6" text-anchor="middle" fill="#1a1a1a" stroke="#1a1a1a" stroke-width="0.1">0</text>
<line x1="463.14" y1="404.80" x2="463.14" y2="408.00" stroke="#222" stroke-width="0.85"/>
<text x="463.14" y="417.80" font-size="7.6" text-anchor="middle" fill="#1a1a1a" stroke="#1a1a1a" stroke-width="0.1">7</text>
<line x1="485.87" y1="404.80" x2="485.87" y2="408.00" stroke="#222" stroke-width="0.85"/>
<text x="485.87" y="417.80" font-size="7.6" text-anchor="middle" fill="#1a1a1a" stroke="#1a1a1a" stroke-width="0.1">14</text>
<line x1="508.61" y1="404.80" x2="508.61" y2="408.00" stroke="#222" stroke-width="0.85"/>
<text x="508.61" y="417.80" font-size="7.6" text-anchor="middle" fill="#1a1a1a" stroke="#1a1a1a" stroke-width="0.1">21</text>
<polyline points="459.89,395.90 463.14,345.90 466.38,345.90 469.63,345.90 472.88,345.90 476.13,345.90 479.38,345.90 482.62,345.90 485.87,361.64 489.12,361.64 492.37,345.90 495.62,361.64 498.86,361.64 502.11,345.90 505.36,345.90" fill="none" stroke="#3a5a9c" stroke-width="0.9" stroke-linejoin="round"/>
<circle cx="459.89" cy="395.90" r="1.75" fill="none" stroke="#3a5a9c" stroke-width="0.7"/>
<circle cx="463.14" cy="345.90" r="1.75" fill="none" stroke="#3a5a9c" stroke-width="0.7"/>
<circle cx="466.38" cy="345.90" r="1.75" fill="none" stroke="#3a5a9c" stroke-width="0.7"/>
<circle cx="469.63" cy="345.90" r="1.75" fill="none" stroke="#3a5a9c" stroke-width="0.7"/>
<circle cx="472.88" cy="345.90" r="1.75" fill="none" stroke="#3a5a9c" stroke-width="0.7"/>
<circle cx="476.13" cy="345.90" r="1.75" fill="none" stroke="#3a5a9c" stroke-width="0.7"/>
<circle cx="479.38" cy="345.90" r="1.75" fill="none" stroke="#3a5a9c" stroke-width="0.7"/>
<circle cx="482.62" cy="345.90" r="1.75" fill="none" stroke="#3a5a9c" stroke-width="0.7"/>
<circle cx="485.87" cy="361.64" r="1.75" fill="none" stroke="#3a5a9c" stroke-width="0.7"/>
<circle cx="489.12" cy="361.64" r="1.75" fill="none" stroke="#3a5a9c" stroke-width="0.7"/>
<circle cx="492.37" cy="345.90" r="1.75" fill="none" stroke="#3a5a9c" stroke-width="0.7"/>
<circle cx="495.62" cy="361.64" r="1.75" fill="none" stroke="#3a5a9c" stroke-width="0.7"/>
<circle cx="498.86" cy="361.64" r="1.75" fill="none" stroke="#3a5a9c" stroke-width="0.7"/>
<circle cx="502.11" cy="345.90" r="1.75" fill="none" stroke="#3a5a9c" stroke-width="0.7"/>
<circle cx="505.36" cy="345.90" r="1.75" fill="none" stroke="#3a5a9c" stroke-width="0.7"/>
<polyline points="459.89,394.51 463.14,394.51 466.38,394.51 469.63,383.40 472.88,383.40 476.13,383.40 479.38,383.40 482.62,374.14 485.87,345.90 489.12,383.40 492.37,389.88 495.62,383.40 498.86,389.88 502.11,383.40 505.36,389.88" fill="none" stroke="#b8082e" stroke-width="0.92" stroke-linejoin="round"/>
<circle cx="459.89" cy="394.51" r="1.3" fill="#b8082e"/>
<circle cx="463.14" cy="394.51" r="1.3" fill="#b8082e"/>
<circle cx="466.38" cy="394.51" r="1.3" fill="#b8082e"/>
<circle cx="469.63" cy="383.40" r="1.3" fill="#b8082e"/>
<circle cx="472.88" cy="383.40" r="1.3" fill="#b8082e"/>
<circle cx="476.13" cy="383.40" r="1.3" fill="#b8082e"/>
<circle cx="479.38" cy="383.40" r="1.3" fill="#b8082e"/>
<circle cx="482.62" cy="374.14" r="1.3" fill="#b8082e"/>
<circle cx="485.87" cy="345.90" r="1.3" fill="#b8082e"/>
<circle cx="489.12" cy="383.40" r="1.3" fill="#b8082e"/>
<circle cx="492.37" cy="389.88" r="1.3" fill="#b8082e"/>
<circle cx="495.62" cy="383.40" r="1.3" fill="#b8082e"/>
<circle cx="498.86" cy="389.88" r="1.3" fill="#b8082e"/>
<circle cx="502.11" cy="383.40" r="1.3" fill="#b8082e"/>
<circle cx="505.36" cy="389.88" r="1.3" fill="#b8082e"/>
<line x1="45.3" y1="392.20" x2="48.70" y2="392.20" stroke="#222" stroke-width="0.8"/>
<text x="42.60" y="394.90" font-size="7.6" text-anchor="end" fill="#1a1a1a" stroke="#1a1a1a" stroke-width="0.1">0.0</text>
<line x1="45.3" y1="369.05" x2="48.70" y2="369.05" stroke="#222" stroke-width="0.8"/>
<text x="42.60" y="371.75" font-size="7.6" text-anchor="end" fill="#1a1a1a" stroke="#1a1a1a" stroke-width="0.1">0.5</text>
<line x1="45.3" y1="345.90" x2="48.70" y2="345.90" stroke="#222" stroke-width="0.8"/>
<text x="42.60" y="348.60" font-size="7.6" text-anchor="end" fill="#1a1a1a" stroke="#1a1a1a" stroke-width="0.1">1.0</text>
<text x="0" y="0" font-size="9.6" text-anchor="middle" fill="#111" transform="translate(25.9,368.9) rotate(-90) scale(0.66,1)" stroke="#111" stroke-width="0.3">aRI</text>
<text x="0" y="0" font-size="9.9" text-anchor="middle" fill="#111" transform="translate(279.5,431.20000000000005) scale(0.665,1)" stroke="#111" stroke-width="0.3">Last day in window</text>
</svg></div></body></html>
